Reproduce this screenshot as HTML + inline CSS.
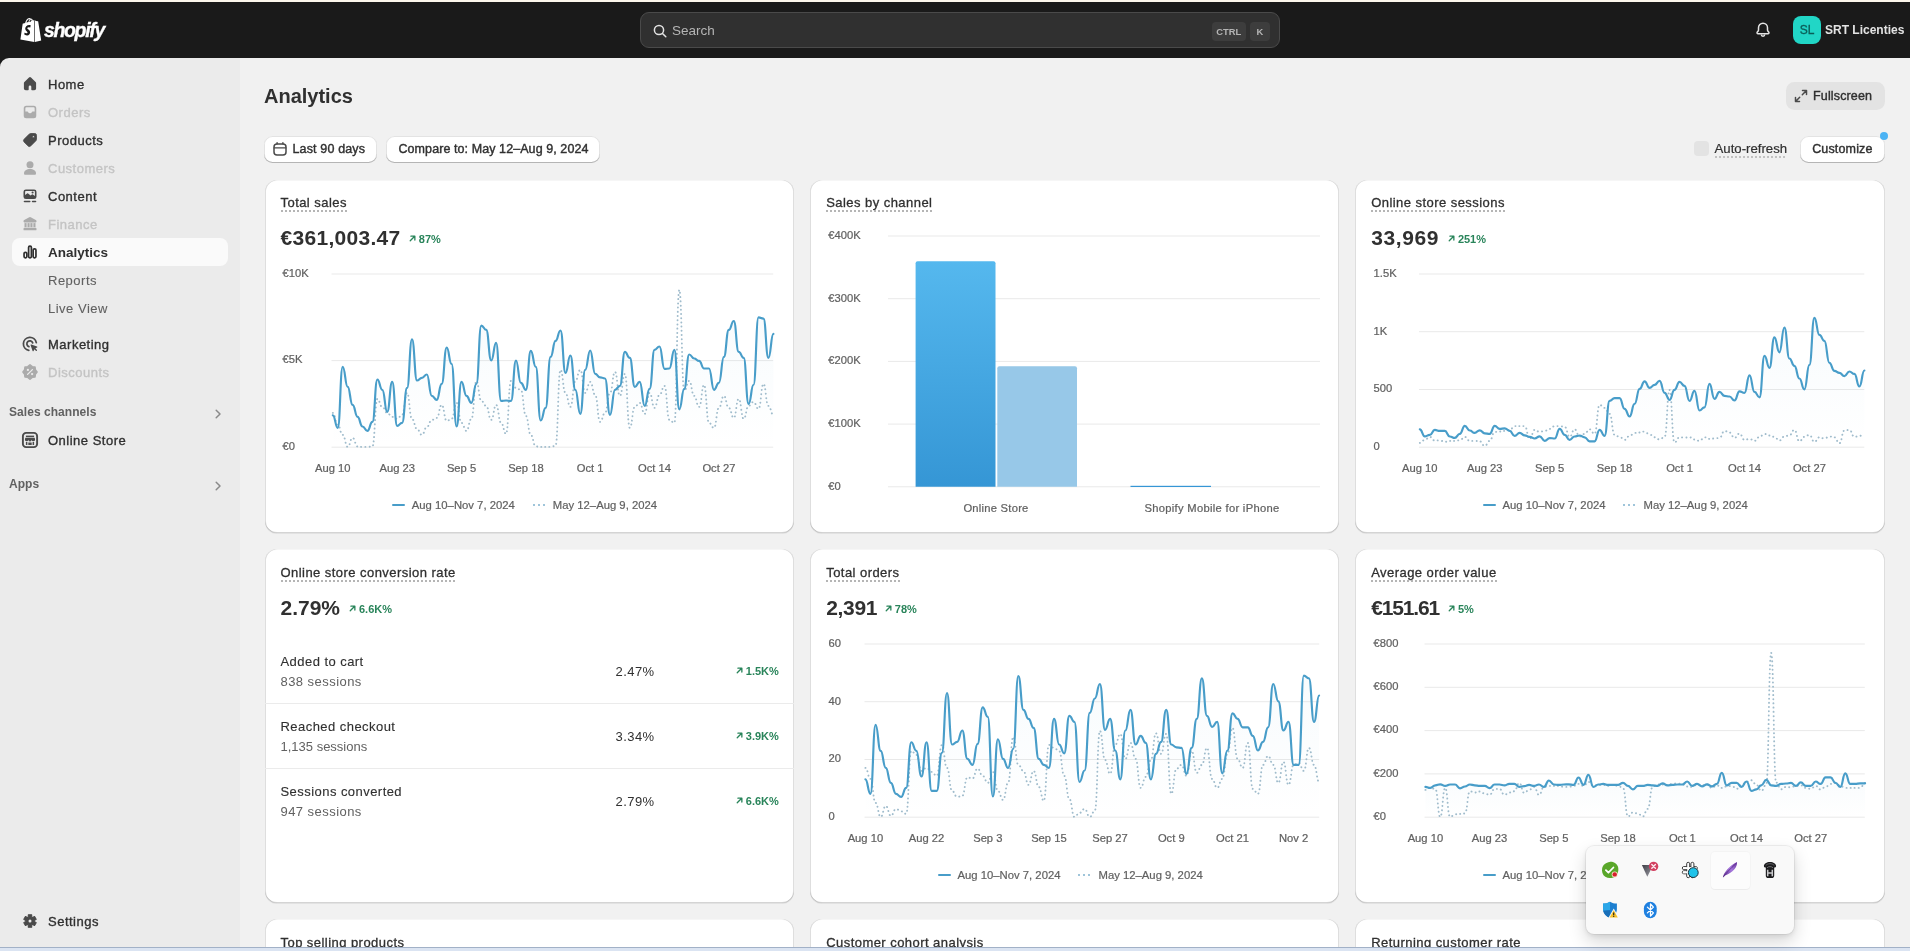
<!DOCTYPE html>
<html lang="en"><head><meta charset="utf-8"><title>Analytics</title>
<style>
*{box-sizing:border-box;margin:0;padding:0}
html,body{width:1910px;height:951px;overflow:hidden}
body{position:relative;background:#f1f1f1;font-family:"Liberation Sans",sans-serif;font-size:13px;color:#303030}
.app{position:absolute;left:0;top:0;width:1910px;height:951px;overflow:hidden;will-change:transform;background:#f1f1f1}
.topline{position:absolute;left:0;top:0;width:1910px;height:2px;background:#fdf7ec}
.topbar{position:absolute;left:0;top:2px;width:1910px;height:56px;background:#1a1a1a}
.logo{position:absolute;left:20px;top:17px;height:26px}
.logo svg{position:absolute;left:0;top:0}
.wordmark{position:absolute;left:24px;top:0px;color:#fff;font-weight:bold;font-style:italic;font-size:19.500px;line-height:26px;letter-spacing:-1.350px;-webkit-text-stroke:.35px #fff;top:-.4px}
.search{position:absolute;left:640px;top:12px;width:640px;height:36px;background:#303030;border:1px solid #4a4a4a;border-radius:9px}
.sico{position:absolute;left:11px;top:10px;width:16px;height:16px}
.stext{position:absolute;left:31px;top:10px;color:#b5b5b5;font-size:13.500px;line-height:16px}
.kbd{position:absolute;top:9px;height:19px;background:#3d3d3d;border-radius:4px;color:#b5b5b5;font-size:9.400px;font-weight:bold;line-height:19px;text-align:center}
.bell{position:absolute;left:1754px;top:21px;width:18px;height:18px}
.avatar{-webkit-text-stroke:.3px #0b5e58;position:absolute;left:1793px;top:16px;width:28px;height:28px;border-radius:8px;background:#21d6c6;color:#0b5e58;font-size:12px;line-height:28px;text-align:center}
.store{white-space:nowrap;position:absolute;left:1825px;top:21.5px;color:#e3e3e3;font-weight:bold;font-size:12px;line-height:16px}
.sbback{position:absolute;left:0;top:58px;width:12px;height:12px;background:#1a1a1a}
.sidebar{position:absolute;left:0;top:58px;width:240px;height:889px;background:#ebebeb;border-top-left-radius:9px}
.sidebar>*{position:absolute}
.navsel{left:12px;top:180px;width:216px;height:28px;background:#fafafa;border-radius:8px}
.nav{line-height:20px;font-size:13px;letter-spacing:.5px;-webkit-text-stroke:.35px currentColor;color:#303030;white-space:nowrap;margin-top:-56.800px}
.nav.dis{color:#c4c4c4}
.nav.sub{-webkit-text-stroke:.1px currentColor;color:#616161}
.nav.sel{font-weight:bold;font-size:13.500px;-webkit-text-stroke:0;letter-spacing:0}
.nav.sec{font-size:12px;font-weight:bold;color:#616161;-webkit-text-stroke:0;letter-spacing:.05px}
.nico{left:20px;width:20px;height:20px;margin-top:-58px}
.chev{left:208px;width:20px;height:20px;margin-top:-58px}
.h1{position:absolute;left:264px;top:83px;font-size:20px;font-weight:bold;line-height:26px;color:#303030}
.btn{position:absolute;background:#fff;border-radius:8.500px;box-shadow:inset 0 -1px 0 #b5b5b5,inset 0 0 0 1px rgba(0,0,0,.11),inset 0 .5px 0 1.5px #fff}
.btn.ghost{background:#e3e3e3;box-shadow:none}
.bt{position:absolute;top:0;line-height:27px;font-size:12.5px;-webkit-text-stroke:.4px #303030;letter-spacing:.15px;white-space:nowrap;color:#303030}
.ghost .bt{line-height:28px}
.bico{position:absolute;width:14px;height:14px}
.chk{position:absolute;left:1694px;top:141px;width:15px;height:15px;border-radius:4px;background:#e3e3e3}
.auto{position:absolute;left:1714.500px;top:140px;font-size:13.200px;-webkit-text-stroke:.2px #303030;line-height:18px;color:#303030;background:linear-gradient(90deg,#c2c2c2 50%,transparent 50%) 0 100%/4px 2px repeat-x}
.dot{position:absolute;left:1880px;top:132px;width:8px;height:8px;border-radius:50%;background:#4bb3f4}
.card{position:absolute;background:#fff;border-radius:12px;box-shadow:0 1px 0 rgba(26,26,26,.07),inset 1px 0 0 rgba(0,0,0,.13),inset -1px 0 0 rgba(0,0,0,.13),inset 0 -1px 0 rgba(0,0,0,.17),inset 0 1px 0 rgba(0,0,0,.035);overflow:hidden}
.card>*{position:absolute}
.in{width:529.600px;height:354px}
.in>*{position:absolute}
.ctitle{left:16px;top:13.250px;font-size:13px;letter-spacing:.45px;-webkit-text-stroke:.3px #303030;line-height:19.300px;color:#303030;white-space:nowrap;background:linear-gradient(90deg,#b5b5b5 50%,transparent 50%) 0 100%/4px 2px repeat-x}
.big{left:16px;top:44px;font-size:21px;font-weight:bold;line-height:28px;color:#303030;white-space:nowrap}
.tr{top:51px}
.trend{display:inline-flex;align-items:center;color:#29845a;font-size:11px;font-weight:bold;line-height:14px;white-space:nowrap}
.trend svg{margin-right:3px;position:relative;top:-1px;flex:none}
.legend{top:315.600px;height:20px;width:280px;left:127.500px}
.legend>*{position:absolute}
.lg1{left:0;top:9px;width:13px;height:2px;background:#489dc9;border-radius:1px}
.lg2{left:140.500px;top:9px;width:13px;height:2px;background:linear-gradient(90deg,#9fc5da 2px,transparent 2px) 0 0/5px 2px repeat-x}
.lgt{top:0;font-size:11.300px;-webkit-text-stroke:.2px #616161;line-height:20px;color:#616161;white-space:nowrap}
.r1{left:16px;font-size:13px;letter-spacing:.45px;-webkit-text-stroke:.12px #303030;line-height:20px;color:#303030;white-space:nowrap}
.r2{left:16px;font-size:13px;letter-spacing:.45px;line-height:20px;color:#616161;white-space:nowrap}
.rp{left:351px;font-size:13px;letter-spacing:.45px;line-height:20px;color:#303030}
.rt{right:15.300px}
.hr{left:0;width:100%;height:1px;background:#ebebeb}
.botbar{position:absolute;left:0;top:947px;width:1910px;height:4px;background:#dbe4f2;border-top:1px solid rgba(105,125,155,.5)}
svg{display:block;overflow:visible}
.ax{font-family:"Liberation Sans",sans-serif;font-size:11.2px;fill:#616161;stroke:#616161;stroke-width:.22px}

</style></head>
<body>
<div class="app">
<div class="topline"></div><div class="topbar"></div>
<div class="logo"><svg width="22" height="26" viewBox="0 0 22 26"><path d="M14.200 3.100 L12.900 3.500 C12.600 2.400 11.900 1.500 10.800 1.500 C10.700 1.500 10.600 1.500 10.600 1.500 C10.300 1.100 9.900 0.900 9.500 0.900 C6.900 0.900 5.600 4.200 5.200 5.900 L3.300 6.500 C2.700 6.700 2.700 6.700 2.600 7.200 L0.400 22.400 L14.300 25 Z" fill="#fff"/><path d="M14.800 3 L15.800 3.900 C15.900 4 16 4 16.100 4 L18 4.200 C18.100 4.200 18.200 4.300 18.200 4.400 L21.200 23.600 L14.900 25 Z" fill="#fff"/><path d="M10.800 8.600 L10.100 10.700 C10.100 10.700 9.400 10.300 8.600 10.300 C7.400 10.300 7.300 11.100 7.300 11.300 C7.300 12.300 10.100 12.700 10.100 15.200 C10.100 17.200 8.900 18.400 7.200 18.400 C5.200 18.400 4.200 17.200 4.200 17.200 L4.700 15.400 C4.700 15.400 5.800 16.300 6.700 16.300 C7.300 16.300 7.500 15.800 7.500 15.500 C7.500 14.100 5.200 14 5.200 11.700 C5.200 9.800 6.600 7.900 9.400 7.900 C10.400 7.900 10.800 8.600 10.800 8.600 Z" fill="#1a1a1a"/><path d="M9.500 1.900c-1.700.3-2.700 2.300-3.100 3.700l2.100-.65c.2-1.300.6-2.300 1.200-2.800-.1-.15-.15-.2-.2-.25zM10.300 2.500c-.4.500-.75 1.300-.9 2.400l1.700-.5c-.15-.9-.4-1.600-.8-1.900zM11 2.400c.3.400.5 1 .65 1.700l.5-.15c-.2-.7-.6-1.400-1.150-1.550z" fill="#1a1a1a"/></svg><span class="wordmark">shopify</span></div>
<div class="search"><span class="sico"><svg width="16" height="16" viewBox="0 0 16 16" fill="none"><circle cx="7" cy="7" r="4.600" fill="none" stroke="#e3e3e3" stroke-width="1.500"/><path d="M10.500 10.500l3.300 3.300" stroke="#e3e3e3" stroke-width="1.500" stroke-linecap="round"/></svg></span><span class="stext">Search</span><span class="kbd" style="right:33.500px;width:33.500px">CTRL</span><span class="kbd" style="right:9.300px;width:19.600px">K</span></div>
<span class="bell"><svg width="18" height="18" viewBox="0 0 18 18" fill="none"><path d="M9 2.200c-2.600 0-4.500 2-4.500 4.500v2.200c0 .6-.2 1.100-.6 1.500l-.6.600c-.6.700-.2 1.800.8 1.800h9.800c1 0 1.400-1.100.8-1.800l-.6-.6c-.4-.4-.6-.9-.6-1.500V6.700c0-2.500-1.900-4.500-4.500-4.500z" fill="none" stroke="#e3e3e3" stroke-width="1.500" stroke-linejoin="round"/><path d="M7.300 13.600a1.700 1.700 0 0 0 3.400 0" fill="none" stroke="#e3e3e3" stroke-width="1.500"/></svg></span>
<span class="avatar">SL</span><span class="store">SRT Licenties</span>
<div class="sbback"></div><div class="sidebar"><div class="navsel"></div><span class="nico" style="top:74px"><svg width="20" height="20" viewBox="0 0 20 20" fill="#4a4a4a"><path d="M11 3.500a1.500 1.500 0 0 0-2 0L4.400 7.900a1.500 1.500 0 0 0-.5 1.100V14.400a1.800 1.800 0 0 0 1.800 1.800H8a.7.700 0 0 0 .7-.7v-2.700a1.300 1.300 0 0 1 2.600 0v2.700a.7.700 0 0 0 .7.700h2.300a1.800 1.800 0 0 0 1.800-1.800V9a1.500 1.500 0 0 0-.5-1.100z"/></svg></span><span class="nav " style="left:48px;top:74px">Home</span><span class="nico" style="top:102px"><svg width="20" height="20" viewBox="0 0 20 20" fill="#ababab"><g transform="translate(10 10) scale(1.01) translate(-10 -10)"><path fill-rule="evenodd" d="M6.300 3.800h7.400A2.500 2.500 0 0 1 16.200 6.300v7.400A2.500 2.500 0 0 1 13.700 16.200H6.300A2.500 2.500 0 0 1 3.800 13.700V6.300A2.500 2.500 0 0 1 6.300 3.800zm.2 1.600a1.100 1.100 0 0 0-1.100 1.100v3.100h2.100a.6.600 0 0 1 .55.370 2.100 2.100 0 0 0 3.900 0 .6.600 0 0 1 .55-.370h2.100V6.500a1.100 1.100 0 0 0-1.100-1.100z"/></g></svg></span><span class="nav dis" style="left:48px;top:102px">Orders</span><span class="nico" style="top:130px"><svg width="20" height="20" viewBox="0 0 20 20" fill="#4a4a4a"><g transform="translate(10 10) scale(1.06) translate(-10 -10)"><path stroke="#4a4a4a" stroke-width=".8" stroke-linejoin="round" fill-rule="evenodd" d="M10.600 3.900h3.900a1.600 1.600 0 0 1 1.600 1.600v3.900a1.800 1.800 0 0 1-.53 1.270l-4.900 4.900a1.800 1.800 0 0 1-2.540 0L4.430 11.870a1.800 1.800 0 0 1 0-2.540l4.900-4.900A1.800 1.800 0 0 1 10.600 3.900zm2.600 4a1 1 0 1 0 0-2 1 1 0 0 0 0 2z"/></g></svg></span><span class="nav " style="left:48px;top:130px">Products</span><span class="nico" style="top:158px"><svg width="20" height="20" viewBox="0 0 20 20" fill="#ababab"><circle cx="10" cy="6.700" r="3.500"/><path d="M4 15.400c0-2.700 2.700-4.300 6-4.300s6 1.600 6 4.300c0 .9-.5 1.400-1.300 1.400H5.300c-.8 0-1.300-.5-1.300-1.400z"/></svg></span><span class="nav dis" style="left:48px;top:158px">Customers</span><span class="nico" style="top:186px"><svg width="20" height="20" viewBox="0 0 20 20" fill="#4a4a4a"><path fill-rule="evenodd" d="M5.900 3.400h8.200a2.400 2.400 0 0 1 2.400 2.400v4.900a2.400 2.400 0 0 1-2.400 2.400H5.900a2.400 2.400 0 0 1-2.400-2.400V5.800a2.400 2.400 0 0 1 2.400-2.400zm0 1.600a.8.800 0 0 0-.8.800v3.300l2-1.700a.8.800 0 0 1 1 0l2.500 2.100 1.300-1a.8.800 0 0 1 .95 0l2.050 1.500V5.800a.8.800 0 0 0-.8-.8zm6.700 2.600a1.050 1.050 0 1 0 0-2.100 1.050 1.050 0 0 0 0 2.100z"/><rect x="3.700" y="14.700" width="6.800" height="1.600" rx=".8"/><rect x="11.800" y="14.700" width="4.500" height="1.600" rx=".8"/></svg></span><span class="nav " style="left:48px;top:186px">Content</span><span class="nico" style="top:214px"><svg width="20" height="20" viewBox="0 0 20 20" fill="#ababab"><path d="M9.300 3.300a1.500 1.500 0 0 1 1.400 0l5.100 2.700c.5.250.7.650.7 1.100v.5a.8.800 0 0 1-.8.800H4.300a.8.800 0 0 1-.8-.8v-.5c0-.450.2-.850.7-1.100z"/><rect x="4.500" y="9.100" width="2.100" height="4.100"/><rect x="7.500" y="9.100" width="2.100" height="4.100"/><rect x="10.400" y="9.100" width="2.100" height="4.100"/><rect x="13.400" y="9.100" width="2.100" height="4.100"/><rect x="3.500" y="13.800" width="13" height="2.500" rx=".9"/></svg></span><span class="nav dis" style="left:48px;top:214px">Finance</span><span class="nico" style="top:242px"><svg width="20" height="20" viewBox="0 0 20 20" fill="none"><g fill="none" stroke="#303030" stroke-width="1.700"><rect x="4.050" y="10.300" width="2.800" height="5.500" rx="1.300"/><rect x="8.600" y="4.200" width="2.800" height="11.600" rx="1.300"/><rect x="13.150" y="6.800" width="2.800" height="9" rx="1.300"/></g></svg></span><span class="nav sel" style="left:48px;top:242px">Analytics</span><span class="nav sub" style="left:48px;top:270px">Reports</span><span class="nav sub" style="left:48px;top:298px">Live View</span><span class="nico" style="top:334px"><svg width="20" height="20" viewBox="0 0 20 20" fill="#4a4a4a"><g fill="none" stroke="#4a4a4a" stroke-width="1.750" stroke-linecap="round"><path d="M16.300 8.700A6.500 6.500 0 1 0 8.800 16.300"/><path d="M12.700 8.900a3 3 0 1 0-3.800 3.800"/></g><path d="M11.300 10.500l5.700 2c.5.200.5.800.1 1l-1.700.8 1.400 1.400a.7.700 0 0 1-1 1l-1.400-1.400-.8 1.700c-.2.400-.8.400-1-.1l-2-5.700c-.2-.5.200-.9.700-.7z"/></svg></span><span class="nav " style="left:48px;top:334px">Marketing</span><span class="nico" style="top:362px"><svg width="20" height="20" viewBox="0 0 20 20" fill="#ababab"><path d="M10.00 3.00L7.82 4.73L5.05 5.05L4.73 7.82L3.00 10.00L4.73 12.18L5.05 14.95L7.82 15.27L10.00 17.00L12.18 15.27L14.95 14.95L15.27 12.18L17.00 10.00L15.27 7.82L14.95 5.05L12.18 4.73Z" stroke="#ababab" stroke-width="1.700" stroke-linejoin="round"/><g fill="#ebebeb"><circle cx="7.900" cy="7.900" r="1.150"/><circle cx="12.100" cy="12.100" r="1.150"/></g><path d="M12.400 7.600L7.600 12.400" stroke="#ebebeb" stroke-width="1.300" stroke-linecap="round"/></svg></span><span class="nav dis" style="left:48px;top:362px">Discounts</span><span class="nav sec" style="left:9px;top:400.7px">Sales channels</span><span class="chev" style="top:404.2px"><svg width="20" height="20" viewBox="0 0 20 20" fill="none"><path d="M8.200 6.200l3.800 3.800-3.800 3.800" fill="none" stroke="#8a8a8a" stroke-width="1.500" stroke-linecap="round" stroke-linejoin="round"/></svg></span><span class="nico" style="top:430px"><svg width="20" height="20" viewBox="0 0 20 20" fill="#4a4a4a"><g fill="none" stroke="#4a4a4a" stroke-width="1.900"><rect x="2.900" y="2.900" width="14.200" height="14.200" rx="3.200"/></g><path d="M5.900 5.600h8.200v1.500H5.900z"/><path d="M5.300 7.800h9.400l.4 1.700a1.700 1.700 0 0 1-3.400.3 1.700 1.700 0 0 1-3.400 0 1.700 1.700 0 0 1-3.400-.3z"/><path d="M5.900 11.900h1.500v3h-1.500zM12.600 11.900h1.500v3h-1.500zM8.300 12.500h3.400v2.400H8.300z"/></svg></span><span class="nav " style="left:48px;top:430px">Online Store</span><span class="nav sec" style="left:9px;top:472.9px">Apps</span><span class="chev" style="top:476.1px"><svg width="20" height="20" viewBox="0 0 20 20" fill="none"><path d="M8.200 6.200l3.800 3.800-3.800 3.800" fill="none" stroke="#8a8a8a" stroke-width="1.500" stroke-linecap="round" stroke-linejoin="round"/></svg></span><span class="nico" style="top:911px"><svg width="20" height="20" viewBox="0 0 20 20" fill="#4a4a4a"><path stroke="#4a4a4a" stroke-width="1.100" stroke-linejoin="round" d="M11.77 6.53L11.66 3.82L8.34 3.82L8.23 6.53L7.88 6.73L5.47 5.47L3.82 8.34L6.11 9.80L6.11 10.20L3.82 11.66L5.47 14.53L7.88 13.27L8.23 13.47L8.34 16.18L11.66 16.18L11.77 13.47L12.12 13.27L14.53 14.53L16.18 11.66L13.89 10.20L13.89 9.80L16.18 8.34L14.53 5.47L12.12 6.73Z"/><circle cx="10" cy="10" r="1.500" fill="#ebebeb"/></svg></span><span class="nav " style="left:48px;top:911px">Settings</span></div>
<div class="h1">Analytics</div>
<div class="btn ghost" style="left:1786px;top:82px;width:99px;height:28px"><span class="bico" style="left:8px;top:7px"><svg width="14" height="14" viewBox="0 0 14 14" fill="none"><g fill="none" stroke="#4a4a4a" stroke-width="1.500" stroke-linecap="round" stroke-linejoin="round"><path d="M8.500 1.500h4v4M12.200 1.800L8.300 5.700M5.500 12.500h-4v-4M1.800 12.200l3.900-3.900"/></g></svg></span><span class="bt" style="left:27px">Fullscreen</span></div>
<div class="btn" style="left:264.200px;top:135.500px;width:113px;height:27px"><span class="bico" style="left:8.800px;top:6.300px"><svg width="14" height="14" viewBox="0 0 14 14" fill="none"><rect x="1" y="2.100" width="12" height="10.900" rx="3" fill="none" stroke="#4a4a4a" stroke-width="1.500"/><path d="M1.300 5.900h11.400M4.100 .6v1.200M9.900 .6v1.200" stroke="#4a4a4a" stroke-width="1.400" stroke-linecap="round"/></svg></span><span class="bt" style="left:28.300px">Last 90 days</span></div>
<div class="btn" style="left:386.200px;top:135.500px;width:214px;height:27px"><span class="bt" style="left:12.300px;letter-spacing:.08px">Compare to: May 12–Aug 9, 2024</span></div>
<div class="chk"></div><span class="auto">Auto-refresh</span>
<div class="btn" style="left:1800.200px;top:135.500px;width:85px;height:27px"><span class="bt" style="left:12px">Customize</span></div><div class="dot"></div>
<div class="card" style="left:265px;top:180px;width:529px;height:353px"><svg style="left:0;top:0" width="529" height="352" viewBox="0 0 529 352"><defs><linearGradient id="g1" x1="0" y1="0" x2="0" y2="1"><stop offset="0" stop-color="#489dc9" stop-opacity=".04"/><stop offset="1" stop-color="#489dc9" stop-opacity="0"/></linearGradient></defs><line x1="66.5" x2="508.2" y1="94.0" y2="94.0" stroke="#e9e9e9" stroke-width="1"/><text class="ax" x="17.6" y="96.8">€10K</text><line x1="66.5" x2="508.2" y1="180.6" y2="180.6" stroke="#e9e9e9" stroke-width="1"/><text class="ax" x="17.6" y="183.4">€5K</text><line x1="66.5" x2="508.2" y1="267.2" y2="267.2" stroke="#e9e9e9" stroke-width="1"/><text class="ax" x="17.6" y="270.0">€0</text><text class="ax" text-anchor="middle" x="67.8" y="292.2">Aug 10</text><text class="ax" text-anchor="middle" x="132.2" y="292.2">Aug 23</text><text class="ax" text-anchor="middle" x="196.5" y="292.2">Sep 5</text><text class="ax" text-anchor="middle" x="260.9" y="292.2">Sep 18</text><text class="ax" text-anchor="middle" x="325.2" y="292.2">Oct 1</text><text class="ax" text-anchor="middle" x="389.5" y="292.2">Oct 14</text><text class="ax" text-anchor="middle" x="453.9" y="292.2">Oct 27</text><path d="M67.8 235.3C70.3 235.3 70.3 247.9 72.8 247.9C75.2 247.9 75.2 186.9 77.7 186.9C80.2 186.9 80.2 206.9 82.7 206.9C85.1 206.9 85.1 224.9 87.6 224.9C90.1 224.9 90.1 236.9 92.6 236.9C95.0 236.9 95.0 246.5 97.5 246.5C100.0 246.5 100.0 250.9 102.4 250.9C104.9 250.9 104.9 241.9 107.4 241.9C109.9 241.9 109.9 199.5 112.4 199.5C114.8 199.5 114.8 209.9 117.3 209.9C119.8 209.9 119.8 231.9 122.2 231.9C124.7 231.9 124.7 201.9 127.2 201.9C129.7 201.9 129.7 245.9 132.2 245.9C134.6 245.9 134.6 242.9 137.1 242.9C139.6 242.9 139.6 207.9 142.1 207.9C144.5 207.9 144.5 159.3 147.0 159.3C149.5 159.3 149.5 200.5 152.0 200.5C154.4 200.5 154.4 197.9 156.9 197.9C159.4 197.9 159.4 194.5 161.9 194.5C164.3 194.5 164.3 215.9 166.8 215.9C169.3 215.9 169.3 219.9 171.8 219.9C174.2 219.9 174.2 203.9 176.7 203.9C179.2 203.9 179.2 167.5 181.7 167.5C184.1 167.5 184.1 183.9 186.6 183.9C189.1 183.9 189.1 246.5 191.6 246.5C194.0 246.5 194.0 201.9 196.5 201.9C199.0 201.9 199.0 215.9 201.5 215.9C203.9 215.9 203.9 222.9 206.4 222.9C208.9 222.9 208.9 203.9 211.4 203.9C213.8 203.9 213.8 145.6 216.3 145.6C218.8 145.6 218.8 149.9 221.2 149.9C223.7 149.9 223.7 180.5 226.2 180.5C228.7 180.5 228.7 162.9 231.1 162.9C233.6 162.9 233.6 220.9 236.1 220.9C238.6 220.9 238.6 220.5 241.1 220.5C243.5 220.5 243.5 220.9 246.0 220.9C248.5 220.9 248.5 180.5 251.0 180.5C253.4 180.5 253.4 202.9 255.9 202.9C258.4 202.9 258.4 209.9 260.9 209.9C263.3 209.9 263.3 170.9 265.8 170.9C268.3 170.9 268.3 186.9 270.8 186.9C273.2 186.9 273.2 240.5 275.7 240.5C278.2 240.5 278.2 227.9 280.6 227.9C283.1 227.9 283.1 176.9 285.6 176.9C288.1 176.9 288.1 160.9 290.5 160.9C293.0 160.9 293.0 150.5 295.5 150.5C298.0 150.5 298.0 192.9 300.5 192.9C302.9 192.9 302.9 175.5 305.4 175.5C307.9 175.5 307.9 209.9 310.4 209.9C312.8 209.9 312.8 233.9 315.3 233.9C317.8 233.9 317.8 189.9 320.2 189.9C322.7 189.9 322.7 170.5 325.2 170.5C327.7 170.5 327.7 193.9 330.2 193.9C332.6 193.9 332.6 197.3 335.1 197.3C337.6 197.3 337.6 198.5 340.0 198.5C342.5 198.5 342.5 234.9 345.0 234.9C347.5 234.9 347.5 209.9 350.0 209.9C352.4 209.9 352.4 205.9 354.9 205.9C357.4 205.9 357.4 171.9 359.9 171.9C362.3 171.9 362.3 177.9 364.8 177.9C367.3 177.9 367.3 206.9 369.8 206.9C372.2 206.9 372.2 201.9 374.7 201.9C377.2 201.9 377.2 225.9 379.7 225.9C382.1 225.9 382.1 208.9 384.6 208.9C387.1 208.9 387.1 169.9 389.5 169.9C392.0 169.9 392.0 166.5 394.5 166.5C397.0 166.5 397.0 188.9 399.5 188.9C401.9 188.9 401.9 188.5 404.4 188.5C406.9 188.5 406.9 169.9 409.4 169.9C411.8 169.9 411.8 229.3 414.3 229.3C416.8 229.3 416.8 208.9 419.2 208.9C421.7 208.9 421.7 174.5 424.2 174.5C426.7 174.5 426.7 178.5 429.2 178.5C431.6 178.5 431.6 180.9 434.1 180.9C436.6 180.9 436.6 188.5 439.0 188.5C441.5 188.5 441.5 188.5 444.0 188.5C446.5 188.5 446.5 209.9 449.0 209.9C451.4 209.9 451.4 202.9 453.9 202.9C456.4 202.9 456.4 176.9 458.9 176.9C461.3 176.9 461.3 149.9 463.8 149.9C466.3 149.9 466.3 141.0 468.8 141.0C471.2 141.0 471.2 171.9 473.7 171.9C476.2 171.9 476.2 177.9 478.7 177.9C481.1 177.9 481.1 223.9 483.6 223.9C486.1 223.9 486.1 204.9 488.5 204.9C491.0 204.9 491.0 137.4 493.5 137.4C496.0 137.4 496.0 138.6 498.5 138.6C500.9 138.6 500.9 177.9 503.4 177.9C505.9 177.9 505.9 153.9 508.4 153.9L508.4 267.2L67.8 267.2Z" fill="url(#g1)"/><path d="M67.8 232.9C70.3 232.9 70.3 244.9 72.8 244.9C75.2 244.9 75.2 254.9 77.7 254.9C80.2 254.9 80.2 266.9 82.7 266.9C85.1 266.9 85.1 257.9 87.6 257.9C90.1 257.9 90.1 266.5 92.6 266.5C95.0 266.5 95.0 266.9 97.5 266.9C100.0 266.9 100.0 266.9 102.4 266.9C104.9 266.9 104.9 266.5 107.4 266.5C109.9 266.5 109.9 218.9 112.4 218.9C114.8 218.9 114.8 226.9 117.3 226.9C119.8 226.9 119.8 232.9 122.2 232.9C124.7 232.9 124.7 236.9 127.2 236.9C129.7 236.9 129.7 238.9 132.2 238.9C134.6 238.9 134.6 234.9 137.1 234.9C139.6 234.9 139.6 212.9 142.1 212.9C144.5 212.9 144.5 238.9 147.0 238.9C149.5 238.9 149.5 248.9 152.0 248.9C154.4 248.9 154.4 254.9 156.9 254.9C159.4 254.9 159.4 246.9 161.9 246.9C164.3 246.9 164.3 239.9 166.8 239.9C169.3 239.9 169.3 237.9 171.8 237.9C174.2 237.9 174.2 224.9 176.7 224.9C179.2 224.9 179.2 240.9 181.7 240.9C184.1 240.9 184.1 238.9 186.6 238.9C189.1 238.9 189.1 222.9 191.6 222.9C194.0 222.9 194.0 242.9 196.5 242.9C199.0 242.9 199.0 250.9 201.5 250.9C203.9 250.9 203.9 238.9 206.4 238.9C208.9 238.9 208.9 200.9 211.4 200.9C213.8 200.9 213.8 220.9 216.3 220.9C218.8 220.9 218.8 225.9 221.2 225.9C223.7 225.9 223.7 239.9 226.2 239.9C228.7 239.9 228.7 224.9 231.1 224.9C233.6 224.9 233.6 242.9 236.1 242.9C238.6 242.9 238.6 253.9 241.1 253.9C243.5 253.9 243.5 200.9 246.0 200.9C248.5 200.9 248.5 207.9 251.0 207.9C253.4 207.9 253.4 209.9 255.9 209.9C258.4 209.9 258.4 235.9 260.9 235.9C263.3 235.9 263.3 254.9 265.8 254.9C268.3 254.9 268.3 266.5 270.8 266.5C273.2 266.5 273.2 266.9 275.7 266.9C278.2 266.9 278.2 266.9 280.6 266.9C283.1 266.9 283.1 266.9 285.6 266.9C288.1 266.9 288.1 265.9 290.5 265.9C293.0 265.9 293.0 189.9 295.5 189.9C298.0 189.9 298.0 212.9 300.5 212.9C302.9 212.9 302.9 226.9 305.4 226.9C307.9 226.9 307.9 200.9 310.4 200.9C312.8 200.9 312.8 189.9 315.3 189.9C317.8 189.9 317.8 212.9 320.2 212.9C322.7 212.9 322.7 201.9 325.2 201.9C327.7 201.9 327.7 214.9 330.2 214.9C332.6 214.9 332.6 241.9 335.1 241.9C337.6 241.9 337.6 232.9 340.0 232.9C342.5 232.9 342.5 212.9 345.0 212.9C347.5 212.9 347.5 191.9 350.0 191.9C352.4 191.9 352.4 215.9 354.9 215.9C357.4 215.9 357.4 193.9 359.9 193.9C362.3 193.9 362.3 247.9 364.8 247.9C367.3 247.9 367.3 226.9 369.8 226.9C372.2 226.9 372.2 222.9 374.7 222.9C377.2 222.9 377.2 233.9 379.7 233.9C382.1 233.9 382.1 212.9 384.6 212.9C387.1 212.9 387.1 227.9 389.5 227.9C392.0 227.9 392.0 214.9 394.5 214.9C397.0 214.9 397.0 205.9 399.5 205.9C401.9 205.9 401.9 239.9 404.4 239.9C406.9 239.9 406.9 242.9 409.4 242.9C411.8 242.9 411.8 110.0 414.3 110.0C416.8 110.0 416.8 210.9 419.2 210.9C421.7 210.9 421.7 200.9 424.2 200.9C426.7 200.9 426.7 215.9 429.2 215.9C431.6 215.9 431.6 226.9 434.1 226.9C436.6 226.9 436.6 204.9 439.0 204.9C441.5 204.9 441.5 242.9 444.0 242.9C446.5 242.9 446.5 247.9 449.0 247.9C451.4 247.9 451.4 227.9 453.9 227.9C456.4 227.9 456.4 215.9 458.9 215.9C461.3 215.9 461.3 227.9 463.8 227.9C466.3 227.9 466.3 237.9 468.8 237.9C471.2 237.9 471.2 218.9 473.7 218.9C476.2 218.9 476.2 238.9 478.7 238.9C481.1 238.9 481.1 225.9 483.6 225.9C486.1 225.9 486.1 221.9 488.5 221.9C491.0 221.9 491.0 228.9 493.5 228.9C496.0 228.9 496.0 203.9 498.5 203.9C500.9 203.9 500.9 225.9 503.4 225.9C505.9 225.9 505.9 234.9 508.4 234.9" fill="none" stroke="#a0bccc" stroke-width="1.9" stroke-linecap="round" stroke-dasharray="0.1 4.1"/><path d="M67.8 235.3C70.3 235.3 70.3 247.9 72.8 247.9C75.2 247.9 75.2 186.9 77.7 186.9C80.2 186.9 80.2 206.9 82.7 206.9C85.1 206.9 85.1 224.9 87.6 224.9C90.1 224.9 90.1 236.9 92.6 236.9C95.0 236.9 95.0 246.5 97.5 246.5C100.0 246.5 100.0 250.9 102.4 250.9C104.9 250.9 104.9 241.9 107.4 241.9C109.9 241.9 109.9 199.5 112.4 199.5C114.8 199.5 114.8 209.9 117.3 209.9C119.8 209.9 119.8 231.9 122.2 231.9C124.7 231.9 124.7 201.9 127.2 201.9C129.7 201.9 129.7 245.9 132.2 245.9C134.6 245.9 134.6 242.9 137.1 242.9C139.6 242.9 139.6 207.9 142.1 207.9C144.5 207.9 144.5 159.3 147.0 159.3C149.5 159.3 149.5 200.5 152.0 200.5C154.4 200.5 154.4 197.9 156.9 197.9C159.4 197.9 159.4 194.5 161.9 194.5C164.3 194.5 164.3 215.9 166.8 215.9C169.3 215.9 169.3 219.9 171.8 219.9C174.2 219.9 174.2 203.9 176.7 203.9C179.2 203.9 179.2 167.5 181.7 167.5C184.1 167.5 184.1 183.9 186.6 183.9C189.1 183.9 189.1 246.5 191.6 246.5C194.0 246.5 194.0 201.9 196.5 201.9C199.0 201.9 199.0 215.9 201.5 215.9C203.9 215.9 203.9 222.9 206.4 222.9C208.9 222.9 208.9 203.9 211.4 203.9C213.8 203.9 213.8 145.6 216.3 145.6C218.8 145.6 218.8 149.9 221.2 149.9C223.7 149.9 223.7 180.5 226.2 180.5C228.7 180.5 228.7 162.9 231.1 162.9C233.6 162.9 233.6 220.9 236.1 220.9C238.6 220.9 238.6 220.5 241.1 220.5C243.5 220.5 243.5 220.9 246.0 220.9C248.5 220.9 248.5 180.5 251.0 180.5C253.4 180.5 253.4 202.9 255.9 202.9C258.4 202.9 258.4 209.9 260.9 209.9C263.3 209.9 263.3 170.9 265.8 170.9C268.3 170.9 268.3 186.9 270.8 186.9C273.2 186.9 273.2 240.5 275.7 240.5C278.2 240.5 278.2 227.9 280.6 227.9C283.1 227.9 283.1 176.9 285.6 176.9C288.1 176.9 288.1 160.9 290.5 160.9C293.0 160.9 293.0 150.5 295.5 150.5C298.0 150.5 298.0 192.9 300.5 192.9C302.9 192.9 302.9 175.5 305.4 175.5C307.9 175.5 307.9 209.9 310.4 209.9C312.8 209.9 312.8 233.9 315.3 233.9C317.8 233.9 317.8 189.9 320.2 189.9C322.7 189.9 322.7 170.5 325.2 170.5C327.7 170.5 327.7 193.9 330.2 193.9C332.6 193.9 332.6 197.3 335.1 197.3C337.6 197.3 337.6 198.5 340.0 198.5C342.5 198.5 342.5 234.9 345.0 234.9C347.5 234.9 347.5 209.9 350.0 209.9C352.4 209.9 352.4 205.9 354.9 205.9C357.4 205.9 357.4 171.9 359.9 171.9C362.3 171.9 362.3 177.9 364.8 177.9C367.3 177.9 367.3 206.9 369.8 206.9C372.2 206.9 372.2 201.9 374.7 201.9C377.2 201.9 377.2 225.9 379.7 225.9C382.1 225.9 382.1 208.9 384.6 208.9C387.1 208.9 387.1 169.9 389.5 169.9C392.0 169.9 392.0 166.5 394.5 166.5C397.0 166.5 397.0 188.9 399.5 188.9C401.9 188.9 401.9 188.5 404.4 188.5C406.9 188.5 406.9 169.9 409.4 169.9C411.8 169.9 411.8 229.3 414.3 229.3C416.8 229.3 416.8 208.9 419.2 208.9C421.7 208.9 421.7 174.5 424.2 174.5C426.7 174.5 426.7 178.5 429.2 178.5C431.6 178.5 431.6 180.9 434.1 180.9C436.6 180.9 436.6 188.5 439.0 188.5C441.5 188.5 441.5 188.5 444.0 188.5C446.5 188.5 446.5 209.9 449.0 209.9C451.4 209.9 451.4 202.9 453.9 202.9C456.4 202.9 456.4 176.9 458.9 176.9C461.3 176.9 461.3 149.9 463.8 149.9C466.3 149.9 466.3 141.0 468.8 141.0C471.2 141.0 471.2 171.9 473.7 171.9C476.2 171.9 476.2 177.9 478.7 177.9C481.1 177.9 481.1 223.9 483.6 223.9C486.1 223.9 486.1 204.9 488.5 204.9C491.0 204.9 491.0 137.4 493.5 137.4C496.0 137.4 496.0 138.6 498.5 138.6C500.9 138.6 500.9 177.9 503.4 177.9C505.9 177.9 505.9 153.9 508.4 153.9" fill="none" stroke="#489dc9" stroke-width="2.150" stroke-linejoin="round" stroke-linecap="round"/></svg><div class="in" style="left:-0.50px;top:-0.40px"><span class="ctitle">Total sales</span><span class="big" style="letter-spacing:.3px">€361,003.47</span><span class="tr" style="left:144.300px"><span class="trend"><svg width="7" height="7" viewBox="0 0 8 8"><path d="M2.2 1.3h4.5v4.5M6.5 1.5L1.4 6.6" fill="none" stroke="#29845a" stroke-width="1.5" stroke-linecap="round" stroke-linejoin="round"/></svg>87%</span></span><div class="legend"><span class="lg1"></span><span class="lgt" style="left:19.800px">Aug 10–Nov 7, 2024</span><span class="lg2"></span><span class="lgt" style="left:160.800px">May 12–Aug 9, 2024</span></div></div></div>
<div class="card" style="left:810px;top:180px;width:529px;height:353px"><svg style="left:0;top:0" width="529" height="352" viewBox="0 0 529 352"><defs><linearGradient id="bg1" x1="0" y1="0" x2="0" y2="1"><stop offset="0" stop-color="#55b8ee"/><stop offset="1" stop-color="#3596d5"/></linearGradient></defs><line x1="78.0" x2="510.0" y1="56.0" y2="56.0" stroke="#e9e9e9" stroke-width="1"/><text class="ax" x="18.3" y="59.0">€400K</text><line x1="78.0" x2="510.0" y1="118.7" y2="118.7" stroke="#e9e9e9" stroke-width="1"/><text class="ax" x="18.3" y="121.7">€300K</text><line x1="78.0" x2="510.0" y1="181.4" y2="181.4" stroke="#e9e9e9" stroke-width="1"/><text class="ax" x="18.3" y="184.4">€200K</text><line x1="78.0" x2="510.0" y1="244.1" y2="244.1" stroke="#e9e9e9" stroke-width="1"/><text class="ax" x="18.3" y="247.1">€100K</text><line x1="78.0" x2="510.0" y1="306.8" y2="306.8" stroke="#e9e9e9" stroke-width="1"/><text class="ax" x="18.3" y="309.8">€0</text><path d="M105.6 306.8V83.2q0 -2 2 -2H183.5q2 0 2 2V306.8Z" fill="url(#bg1)"/><path d="M187.3 306.8V188.3q0 -2 2 -2H265.0q2 0 2 2V306.8Z" fill="#97c8e8"/><rect x="320.5" y="305.8" width="80.5" height="1.2" fill="#3596d5"/><text class="ax" text-anchor="middle" letter-spacing=".25" x="186.0" y="332.0">Online Store</text><text class="ax" text-anchor="middle" letter-spacing=".3" x="402.0" y="332.0">Shopify Mobile for iPhone</text></svg><div class="in" style="left:0.20px;top:-0.40px"><span class="ctitle">Sales by channel</span></div></div>
<div class="card" style="left:1355px;top:180px;width:530px;height:353px"><svg style="left:0;top:0" width="529" height="352" viewBox="0 0 529 352"><defs><linearGradient id="g3" x1="0" y1="0" x2="0" y2="1"><stop offset="0" stop-color="#489dc9" stop-opacity=".04"/><stop offset="1" stop-color="#489dc9" stop-opacity="0"/></linearGradient></defs><line x1="64.0" x2="509.3" y1="94.0" y2="94.0" stroke="#e9e9e9" stroke-width="1"/><text class="ax" x="18.6" y="96.8">1.5K</text><line x1="64.0" x2="509.3" y1="151.7" y2="151.7" stroke="#e9e9e9" stroke-width="1"/><text class="ax" x="18.6" y="154.5">1K</text><line x1="64.0" x2="509.3" y1="209.5" y2="209.5" stroke="#e9e9e9" stroke-width="1"/><text class="ax" x="18.6" y="212.3">500</text><line x1="64.0" x2="509.3" y1="267.2" y2="267.2" stroke="#e9e9e9" stroke-width="1"/><text class="ax" x="18.6" y="270.0">0</text><text class="ax" text-anchor="middle" x="64.8" y="292.2">Aug 10</text><text class="ax" text-anchor="middle" x="129.7" y="292.2">Aug 23</text><text class="ax" text-anchor="middle" x="194.7" y="292.2">Sep 5</text><text class="ax" text-anchor="middle" x="259.6" y="292.2">Sep 18</text><text class="ax" text-anchor="middle" x="324.5" y="292.2">Oct 1</text><text class="ax" text-anchor="middle" x="389.5" y="292.2">Oct 14</text><text class="ax" text-anchor="middle" x="454.4" y="292.2">Oct 27</text><path d="M64.8 249.3C67.3 249.3 67.3 256.3 69.8 256.3C72.3 256.3 72.3 254.9 74.8 254.9C77.3 254.9 77.3 249.9 79.8 249.9C82.3 249.9 82.3 250.9 84.8 250.9C87.3 250.9 87.3 250.9 89.8 250.9C92.3 250.9 92.3 256.5 94.8 256.5C97.3 256.5 97.3 257.9 99.8 257.9C102.3 257.9 102.3 253.9 104.8 253.9C107.3 253.9 107.3 245.9 109.8 245.9C112.3 245.9 112.3 250.5 114.8 250.5C117.2 250.5 117.2 252.9 119.7 252.9C122.2 252.9 122.2 250.3 124.7 250.3C127.2 250.3 127.2 253.3 129.7 253.3C132.2 253.3 132.2 253.9 134.7 253.9C137.2 253.9 137.2 245.9 139.7 245.9C142.2 245.9 142.2 248.9 144.7 248.9C147.2 248.9 147.2 248.3 149.7 248.3C152.2 248.3 152.2 250.9 154.7 250.9C157.2 250.9 157.2 255.9 159.7 255.9C162.2 255.9 162.2 252.9 164.7 252.9C167.2 252.9 167.2 255.3 169.7 255.3C172.2 255.3 172.2 256.9 174.7 256.9C177.2 256.9 177.2 258.5 179.7 258.5C182.2 258.5 182.2 256.3 184.7 256.3C187.2 256.3 187.2 260.9 189.7 260.9C192.2 260.9 192.2 258.1 194.7 258.1C197.2 258.1 197.2 258.5 199.7 258.5C202.2 258.5 202.2 248.9 204.7 248.9C207.2 248.9 207.2 254.9 209.7 254.9C212.2 254.9 212.2 259.9 214.6 259.9C217.1 259.9 217.1 256.5 219.6 256.5C222.1 256.5 222.1 255.5 224.6 255.5C227.1 255.5 227.1 257.3 229.6 257.3C232.1 257.3 232.1 261.3 234.6 261.3C237.1 261.3 237.1 261.3 239.6 261.3C242.1 261.3 242.1 249.9 244.6 249.9C247.1 249.9 247.1 255.9 249.6 255.9C252.1 255.9 252.1 220.9 254.6 220.9C257.1 220.9 257.1 218.1 259.6 218.1C262.1 218.1 262.1 218.1 264.6 218.1C267.1 218.1 267.1 228.9 269.6 228.9C272.1 228.9 272.1 236.5 274.6 236.5C277.1 236.5 277.1 223.9 279.6 223.9C282.1 223.9 282.1 208.9 284.6 208.9C287.1 208.9 287.1 201.3 289.6 201.3C292.1 201.3 292.1 207.9 294.6 207.9C297.1 207.9 297.1 204.9 299.6 204.9C302.1 204.9 302.1 200.9 304.6 200.9C307.1 200.9 307.1 212.9 309.6 212.9C312.1 212.9 312.1 219.9 314.5 219.9C317.0 219.9 317.0 209.9 319.5 209.9C322.0 209.9 322.0 201.9 324.5 201.9C327.0 201.9 327.0 205.9 329.5 205.9C332.0 205.9 332.0 220.9 334.5 220.9C337.0 220.9 337.0 210.9 339.5 210.9C342.0 210.9 342.0 230.5 344.5 230.5C347.0 230.5 347.0 227.3 349.5 227.3C352.0 227.3 352.0 203.9 354.5 203.9C357.0 203.9 357.0 218.9 359.5 218.9C362.0 218.9 362.0 211.9 364.5 211.9C367.0 211.9 367.0 215.9 369.5 215.9C372.0 215.9 372.0 216.5 374.5 216.5C377.0 216.5 377.0 220.5 379.5 220.5C382.0 220.5 382.0 211.3 384.5 211.3C387.0 211.3 387.0 212.9 389.5 212.9C392.0 212.9 392.0 195.3 394.5 195.3C397.0 195.3 397.0 211.9 399.5 211.9C402.0 211.9 402.0 217.3 404.5 217.3C407.0 217.3 407.0 175.9 409.5 175.9C412.0 175.9 412.0 187.9 414.5 187.9C416.9 187.9 416.9 157.3 419.4 157.3C421.9 157.3 421.9 172.3 424.4 172.3C426.9 172.3 426.9 147.5 429.4 147.5C431.9 147.5 431.9 178.5 434.4 178.5C436.9 178.5 436.9 185.9 439.4 185.9C441.9 185.9 441.9 198.5 444.4 198.5C446.9 198.5 446.9 209.3 449.4 209.3C451.9 209.3 451.9 184.9 454.4 184.9C456.9 184.9 456.9 137.8 459.4 137.8C461.9 137.8 461.9 154.9 464.4 154.9C466.9 154.9 466.9 160.9 469.4 160.9C471.9 160.9 471.9 182.9 474.4 182.9C476.9 182.9 476.9 190.9 479.4 190.9C481.9 190.9 481.9 192.9 484.4 192.9C486.9 192.9 486.9 196.1 489.4 196.1C491.9 196.1 491.9 191.5 494.4 191.5C496.9 191.5 496.9 193.9 499.4 193.9C501.9 193.9 501.9 206.5 504.4 206.5C506.9 206.5 506.9 190.5 509.4 190.5L509.4 267.2L64.8 267.2Z" fill="url(#g3)"/><path d="M64.8 262.9C67.3 262.9 67.3 259.9 69.8 259.9C72.3 259.9 72.3 256.9 74.8 256.9C77.3 256.9 77.3 260.5 79.8 260.5C82.3 260.5 82.3 260.3 84.8 260.3C87.3 260.3 87.3 261.9 89.8 261.9C92.3 261.9 92.3 260.9 94.8 260.9C97.3 260.9 97.3 260.9 99.8 260.9C102.3 260.9 102.3 260.3 104.8 260.3C107.3 260.3 107.3 256.9 109.8 256.9C112.3 256.9 112.3 260.9 114.8 260.9C117.2 260.9 117.2 260.9 119.7 260.9C122.2 260.9 122.2 261.3 124.7 261.3C127.2 261.3 127.2 265.9 129.7 265.9C132.2 265.9 132.2 260.9 134.7 260.9C137.2 260.9 137.2 251.9 139.7 251.9C142.2 251.9 142.2 251.5 144.7 251.5C147.2 251.5 147.2 250.9 149.7 250.9C152.2 250.9 152.2 249.9 154.7 249.9C157.2 249.9 157.2 246.1 159.7 246.1C162.2 246.1 162.2 246.1 164.7 246.1C167.2 246.1 167.2 246.1 169.7 246.1C172.2 246.1 172.2 258.9 174.7 258.9C177.2 258.9 177.2 249.9 179.7 249.9C182.2 249.9 182.2 251.9 184.7 251.9C187.2 251.9 187.2 250.9 189.7 250.9C192.2 250.9 192.2 248.9 194.7 248.9C197.2 248.9 197.2 246.1 199.7 246.1C202.2 246.1 202.2 246.1 204.7 246.1C207.2 246.1 207.2 246.9 209.7 246.9C212.2 246.9 212.2 256.9 214.6 256.9C217.1 256.9 217.1 249.3 219.6 249.3C222.1 249.3 222.1 256.5 224.6 256.5C227.1 256.5 227.1 253.9 229.6 253.9C232.1 253.9 232.1 249.3 234.6 249.3C237.1 249.3 237.1 253.9 239.6 253.9C242.1 253.9 242.1 224.9 244.6 224.9C247.1 224.9 247.1 227.9 249.6 227.9C252.1 227.9 252.1 233.9 254.6 233.9C257.1 233.9 257.1 254.9 259.6 254.9C262.1 254.9 262.1 256.9 264.6 256.9C267.1 256.9 267.1 259.9 269.6 259.9C272.1 259.9 272.1 255.9 274.6 255.9C277.1 255.9 277.1 252.9 279.6 252.9C282.1 252.9 282.1 252.5 284.6 252.5C287.1 252.5 287.1 251.5 289.6 251.5C292.1 251.5 292.1 254.5 294.6 254.5C297.1 254.5 297.1 257.3 299.6 257.3C302.1 257.3 302.1 259.5 304.6 259.5C307.1 259.5 307.1 256.9 309.6 256.9C312.1 256.9 312.1 209.9 314.5 209.9C317.0 209.9 317.0 262.5 319.5 262.5C322.0 262.5 322.0 257.3 324.5 257.3C327.0 257.3 327.0 257.5 329.5 257.5C332.0 257.5 332.0 257.3 334.5 257.3C337.0 257.3 337.0 259.5 339.5 259.5C342.0 259.5 342.0 260.9 344.5 260.9C347.0 260.9 347.0 257.3 349.5 257.3C352.0 257.3 352.0 258.9 354.5 258.9C357.0 258.9 357.0 258.5 359.5 258.5C362.0 258.5 362.0 257.9 364.5 257.9C367.0 257.9 367.0 250.9 369.5 250.9C372.0 250.9 372.0 252.5 374.5 252.5C377.0 252.5 377.0 257.9 379.5 257.9C382.0 257.9 382.0 253.5 384.5 253.5C387.0 253.5 387.0 259.9 389.5 259.9C392.0 259.9 392.0 258.9 394.5 258.9C397.0 258.9 397.0 260.9 399.5 260.9C402.0 260.9 402.0 256.9 404.5 256.9C407.0 256.9 407.0 253.9 409.5 253.9C412.0 253.9 412.0 255.5 414.5 255.5C416.9 255.5 416.9 256.9 419.4 256.9C421.9 256.9 421.9 260.5 424.4 260.5C426.9 260.5 426.9 256.5 429.4 256.5C431.9 256.5 431.9 255.3 434.4 255.3C436.9 255.3 436.9 249.9 439.4 249.9C441.9 249.9 441.9 261.3 444.4 261.3C446.9 261.3 446.9 256.9 449.4 256.9C451.9 256.9 451.9 254.9 454.4 254.9C456.9 254.9 456.9 261.9 459.4 261.9C461.9 261.9 461.9 257.3 464.4 257.3C466.9 257.3 466.9 258.5 469.4 258.5C471.9 258.5 471.9 256.5 474.4 256.5C476.9 256.5 476.9 257.3 479.4 257.3C481.9 257.3 481.9 263.3 484.4 263.3C486.9 263.3 486.9 250.5 489.4 250.5C491.9 250.5 491.9 249.9 494.4 249.9C496.9 249.9 496.9 256.9 499.4 256.9C501.9 256.9 501.9 255.9 504.4 255.9C506.9 255.9 506.9 254.5 509.4 254.5" fill="none" stroke="#a0bccc" stroke-width="1.9" stroke-linecap="round" stroke-dasharray="0.1 4.1"/><path d="M64.8 249.3C67.3 249.3 67.3 256.3 69.8 256.3C72.3 256.3 72.3 254.9 74.8 254.9C77.3 254.9 77.3 249.9 79.8 249.9C82.3 249.9 82.3 250.9 84.8 250.9C87.3 250.9 87.3 250.9 89.8 250.9C92.3 250.9 92.3 256.5 94.8 256.5C97.3 256.5 97.3 257.9 99.8 257.9C102.3 257.9 102.3 253.9 104.8 253.9C107.3 253.9 107.3 245.9 109.8 245.9C112.3 245.9 112.3 250.5 114.8 250.5C117.2 250.5 117.2 252.9 119.7 252.9C122.2 252.9 122.2 250.3 124.7 250.3C127.2 250.3 127.2 253.3 129.7 253.3C132.2 253.3 132.2 253.9 134.7 253.9C137.2 253.9 137.2 245.9 139.7 245.9C142.2 245.9 142.2 248.9 144.7 248.9C147.2 248.9 147.2 248.3 149.7 248.3C152.2 248.3 152.2 250.9 154.7 250.9C157.2 250.9 157.2 255.9 159.7 255.9C162.2 255.9 162.2 252.9 164.7 252.9C167.2 252.9 167.2 255.3 169.7 255.3C172.2 255.3 172.2 256.9 174.7 256.9C177.2 256.9 177.2 258.5 179.7 258.5C182.2 258.5 182.2 256.3 184.7 256.3C187.2 256.3 187.2 260.9 189.7 260.9C192.2 260.9 192.2 258.1 194.7 258.1C197.2 258.1 197.2 258.5 199.7 258.5C202.2 258.5 202.2 248.9 204.7 248.9C207.2 248.9 207.2 254.9 209.7 254.9C212.2 254.9 212.2 259.9 214.6 259.9C217.1 259.9 217.1 256.5 219.6 256.5C222.1 256.5 222.1 255.5 224.6 255.5C227.1 255.5 227.1 257.3 229.6 257.3C232.1 257.3 232.1 261.3 234.6 261.3C237.1 261.3 237.1 261.3 239.6 261.3C242.1 261.3 242.1 249.9 244.6 249.9C247.1 249.9 247.1 255.9 249.6 255.9C252.1 255.9 252.1 220.9 254.6 220.9C257.1 220.9 257.1 218.1 259.6 218.1C262.1 218.1 262.1 218.1 264.6 218.1C267.1 218.1 267.1 228.9 269.6 228.9C272.1 228.9 272.1 236.5 274.6 236.5C277.1 236.5 277.1 223.9 279.6 223.9C282.1 223.9 282.1 208.9 284.6 208.9C287.1 208.9 287.1 201.3 289.6 201.3C292.1 201.3 292.1 207.9 294.6 207.9C297.1 207.9 297.1 204.9 299.6 204.9C302.1 204.9 302.1 200.9 304.6 200.9C307.1 200.9 307.1 212.9 309.6 212.9C312.1 212.9 312.1 219.9 314.5 219.9C317.0 219.9 317.0 209.9 319.5 209.9C322.0 209.9 322.0 201.9 324.5 201.9C327.0 201.9 327.0 205.9 329.5 205.9C332.0 205.9 332.0 220.9 334.5 220.9C337.0 220.9 337.0 210.9 339.5 210.9C342.0 210.9 342.0 230.5 344.5 230.5C347.0 230.5 347.0 227.3 349.5 227.3C352.0 227.3 352.0 203.9 354.5 203.9C357.0 203.9 357.0 218.9 359.5 218.9C362.0 218.9 362.0 211.9 364.5 211.9C367.0 211.9 367.0 215.9 369.5 215.9C372.0 215.9 372.0 216.5 374.5 216.5C377.0 216.5 377.0 220.5 379.5 220.5C382.0 220.5 382.0 211.3 384.5 211.3C387.0 211.3 387.0 212.9 389.5 212.9C392.0 212.9 392.0 195.3 394.5 195.3C397.0 195.3 397.0 211.9 399.5 211.9C402.0 211.9 402.0 217.3 404.5 217.3C407.0 217.3 407.0 175.9 409.5 175.9C412.0 175.9 412.0 187.9 414.5 187.9C416.9 187.9 416.9 157.3 419.4 157.3C421.9 157.3 421.9 172.3 424.4 172.3C426.9 172.3 426.9 147.5 429.4 147.5C431.9 147.5 431.9 178.5 434.4 178.5C436.9 178.5 436.9 185.9 439.4 185.9C441.9 185.9 441.9 198.5 444.4 198.5C446.9 198.5 446.9 209.3 449.4 209.3C451.9 209.3 451.9 184.9 454.4 184.9C456.9 184.9 456.9 137.8 459.4 137.8C461.9 137.8 461.9 154.9 464.4 154.9C466.9 154.9 466.9 160.9 469.4 160.9C471.9 160.9 471.9 182.9 474.4 182.9C476.9 182.9 476.9 190.9 479.4 190.9C481.9 190.9 481.9 192.9 484.4 192.9C486.9 192.9 486.9 196.1 489.4 196.1C491.9 196.1 491.9 191.5 494.4 191.5C496.9 191.5 496.9 193.9 499.4 193.9C501.9 193.9 501.9 206.5 504.4 206.5C506.9 206.5 506.9 190.5 509.4 190.5" fill="none" stroke="#489dc9" stroke-width="2.150" stroke-linejoin="round" stroke-linecap="round"/></svg><div class="in" style="left:0.20px;top:-0.40px"><span class="ctitle">Online store sessions</span><span class="big" style="letter-spacing:.6px">33,969</span><span class="tr" style="left:92.700px"><span class="trend"><svg width="7" height="7" viewBox="0 0 8 8"><path d="M2.2 1.3h4.5v4.5M6.5 1.5L1.4 6.6" fill="none" stroke="#29845a" stroke-width="1.5" stroke-linecap="round" stroke-linejoin="round"/></svg>251%</span></span><div class="legend"><span class="lg1"></span><span class="lgt" style="left:19.800px">Aug 10–Nov 7, 2024</span><span class="lg2"></span><span class="lgt" style="left:160.800px">May 12–Aug 9, 2024</span></div></div></div>
<div class="card" style="left:265px;top:549px;width:529px;height:354px"><div class="hr" style="top:154px"></div><div class="hr" style="top:219px"></div><div class="in" style="left:-0.50px;top:0.60px"><span class="ctitle">Online store conversion rate</span><span class="big">2.79%</span><span class="tr" style="left:84.500px"><span class="trend"><svg width="7" height="7" viewBox="0 0 8 8"><path d="M2.2 1.3h4.5v4.5M6.5 1.5L1.4 6.6" fill="none" stroke="#29845a" stroke-width="1.5" stroke-linecap="round" stroke-linejoin="round"/></svg>6.6K%</span></span><span class="r1" style="top:102px">Added to cart</span><span class="r2" style="top:122px">838 sessions</span><span class="rp" style="top:112px">2.47%</span><span class="rt" style="top:113px"><span class="trend"><svg width="7" height="7" viewBox="0 0 8 8"><path d="M2.2 1.3h4.5v4.5M6.5 1.5L1.4 6.6" fill="none" stroke="#29845a" stroke-width="1.5" stroke-linecap="round" stroke-linejoin="round"/></svg>1.5K%</span></span><span class="r1" style="top:167px">Reached checkout</span><span class="r2" style="top:187px;letter-spacing:0">1,135 sessions</span><span class="rp" style="top:177px">3.34%</span><span class="rt" style="top:178px"><span class="trend"><svg width="7" height="7" viewBox="0 0 8 8"><path d="M2.2 1.3h4.5v4.5M6.5 1.5L1.4 6.6" fill="none" stroke="#29845a" stroke-width="1.5" stroke-linecap="round" stroke-linejoin="round"/></svg>3.9K%</span></span><span class="r1" style="top:232px">Sessions converted</span><span class="r2" style="top:252px">947 sessions</span><span class="rp" style="top:242px">2.79%</span><span class="rt" style="top:243px"><span class="trend"><svg width="7" height="7" viewBox="0 0 8 8"><path d="M2.2 1.3h4.5v4.5M6.5 1.5L1.4 6.6" fill="none" stroke="#29845a" stroke-width="1.5" stroke-linecap="round" stroke-linejoin="round"/></svg>6.6K%</span></span></div></div>
<div class="card" style="left:810px;top:549px;width:529px;height:354px"><svg style="left:0;top:0" width="529" height="352" viewBox="0 0 529 352"><defs><linearGradient id="g5" x1="0" y1="0" x2="0" y2="1"><stop offset="0" stop-color="#489dc9" stop-opacity=".04"/><stop offset="1" stop-color="#489dc9" stop-opacity="0"/></linearGradient></defs><line x1="54.5" x2="509.2" y1="95.0" y2="95.0" stroke="#e9e9e9" stroke-width="1"/><text class="ax" x="18.6" y="97.8">60</text><line x1="54.5" x2="509.2" y1="152.7" y2="152.7" stroke="#e9e9e9" stroke-width="1"/><text class="ax" x="18.6" y="155.5">40</text><line x1="54.5" x2="509.2" y1="210.5" y2="210.5" stroke="#e9e9e9" stroke-width="1"/><text class="ax" x="18.6" y="213.3">20</text><line x1="54.5" x2="509.2" y1="268.2" y2="268.2" stroke="#e9e9e9" stroke-width="1"/><text class="ax" x="18.6" y="271.0">0</text><text class="ax" text-anchor="middle" x="55.4" y="293.2">Aug 10</text><text class="ax" text-anchor="middle" x="116.6" y="293.2">Aug 22</text><text class="ax" text-anchor="middle" x="177.8" y="293.2">Sep 3</text><text class="ax" text-anchor="middle" x="238.9" y="293.2">Sep 15</text><text class="ax" text-anchor="middle" x="300.1" y="293.2">Sep 27</text><text class="ax" text-anchor="middle" x="361.3" y="293.2">Oct 9</text><text class="ax" text-anchor="middle" x="422.5" y="293.2">Oct 21</text><text class="ax" text-anchor="middle" x="483.6" y="293.2">Nov 2</text><path d="M55.4 230.3C57.9 230.3 57.9 244.9 60.5 244.9C63.0 244.9 63.0 175.9 65.6 175.9C68.1 175.9 68.1 201.9 70.7 201.9C73.2 201.9 73.2 218.9 75.8 218.9C78.3 218.9 78.3 233.9 80.9 233.9C83.4 233.9 83.4 244.9 86.0 244.9C88.5 244.9 88.5 247.9 91.1 247.9C93.6 247.9 93.6 238.9 96.2 238.9C98.7 238.9 98.7 193.3 101.3 193.3C103.8 193.3 103.8 201.9 106.4 201.9C108.9 201.9 108.9 227.5 111.5 227.5C114.0 227.5 114.0 193.3 116.6 193.3C119.1 193.3 119.1 241.9 121.7 241.9C124.2 241.9 124.2 241.9 126.8 241.9C129.3 241.9 129.3 203.9 131.9 203.9C134.4 203.9 134.4 144.0 137.0 144.0C139.5 144.0 139.5 195.5 142.1 195.5C144.6 195.5 144.6 192.9 147.2 192.9C149.7 192.9 149.7 181.5 152.3 181.5C154.8 181.5 154.8 209.9 157.4 209.9C159.9 209.9 159.9 215.9 162.5 215.9C165.0 215.9 165.0 194.9 167.6 194.9C170.1 194.9 170.1 158.3 172.7 158.3C175.2 158.3 175.2 167.9 177.8 167.9C180.3 167.9 180.3 247.5 182.9 247.5C185.4 247.5 185.4 190.3 187.9 190.3C190.5 190.3 190.5 209.9 193.0 209.9C195.6 209.9 195.6 218.9 198.1 218.9C200.7 218.9 200.7 199.9 203.2 199.9C205.8 199.9 205.8 127.0 208.3 127.0C210.9 127.0 210.9 160.9 213.4 160.9C216.0 160.9 216.0 169.9 218.5 169.9C221.1 169.9 221.1 178.9 223.6 178.9C226.2 178.9 226.2 209.9 228.7 209.9C231.3 209.9 231.3 215.9 233.8 215.9C236.4 215.9 236.4 218.9 238.9 218.9C241.5 218.9 241.5 169.9 244.0 169.9C246.6 169.9 246.6 195.5 249.1 195.5C251.7 195.5 251.7 204.3 254.2 204.3C256.8 204.3 256.8 166.9 259.3 166.9C261.9 166.9 261.9 172.9 264.4 172.9C267.0 172.9 267.0 232.9 269.5 232.9C272.1 232.9 272.1 221.5 274.6 221.5C277.2 221.5 277.2 163.9 279.7 163.9C282.3 163.9 282.3 149.5 284.8 149.5C287.4 149.5 287.4 135.0 289.9 135.0C292.5 135.0 292.5 180.9 295.0 180.9C297.6 180.9 297.6 169.9 300.1 169.9C302.7 169.9 302.7 201.5 305.2 201.5C307.8 201.5 307.8 230.3 310.3 230.3C312.8 230.3 312.8 181.5 315.4 181.5C317.9 181.5 317.9 160.9 320.5 160.9C323.0 160.9 323.0 195.5 325.6 195.5C328.1 195.5 328.1 186.9 330.7 186.9C333.2 186.9 333.2 193.9 335.8 193.9C338.3 193.9 338.3 230.3 340.9 230.3C343.4 230.3 343.4 204.9 346.0 204.9C348.5 204.9 348.5 192.9 351.1 192.9C353.6 192.9 353.6 160.9 356.2 160.9C358.7 160.9 358.7 195.5 361.3 195.5C363.8 195.5 363.8 198.3 366.4 198.3C368.9 198.3 368.9 198.9 371.5 198.9C374.0 198.9 374.0 224.9 376.6 224.9C379.1 224.9 379.1 198.9 381.7 198.9C384.2 198.9 384.2 169.9 386.8 169.9C389.3 169.9 389.3 129.4 391.9 129.4C394.4 129.4 394.4 166.9 397.0 166.9C399.5 166.9 399.5 177.9 402.1 177.9C404.6 177.9 404.6 172.9 407.2 172.9C409.7 172.9 409.7 224.3 412.3 224.3C414.8 224.3 414.8 201.5 417.4 201.5C419.9 201.5 419.9 164.3 422.5 164.3C425.0 164.3 425.0 169.9 427.6 169.9C430.1 169.9 430.1 178.3 432.7 178.3C435.2 178.3 435.2 178.3 437.8 178.3C440.3 178.3 440.3 186.9 442.8 186.9C445.4 186.9 445.4 201.5 447.9 201.5C450.5 201.5 450.5 192.9 453.0 192.9C455.6 192.9 455.6 178.3 458.1 178.3C460.7 178.3 460.7 135.0 463.2 135.0C465.8 135.0 465.8 152.3 468.3 152.3C470.9 152.3 470.9 181.5 473.4 181.5C476.0 181.5 476.0 172.9 478.5 172.9C481.1 172.9 481.1 215.9 483.6 215.9C486.2 215.9 486.2 215.9 488.7 215.9C491.3 215.9 491.3 126.6 493.8 126.6C496.4 126.6 496.4 129.4 498.9 129.4C501.5 129.4 501.5 172.9 504.0 172.9C506.6 172.9 506.6 146.6 509.1 146.6L509.1 268.2L55.4 268.2Z" fill="url(#g5)"/><path d="M55.4 218.9C57.9 218.9 57.9 229.9 60.5 229.9C63.0 229.9 63.0 253.9 65.6 253.9C68.1 253.9 68.1 267.9 70.7 267.9C73.2 267.9 73.2 256.9 75.8 256.9C78.3 256.9 78.3 266.9 80.9 266.9C83.4 266.9 83.4 259.9 86.0 259.9C88.5 259.9 88.5 262.3 91.1 262.3C93.6 262.3 93.6 264.9 96.2 264.9C98.7 264.9 98.7 201.9 101.3 201.9C103.8 201.9 103.8 205.9 106.4 205.9C108.9 205.9 108.9 221.9 111.5 221.9C114.0 221.9 114.0 218.9 116.6 218.9C119.1 218.9 119.1 222.9 121.7 222.9C124.2 222.9 124.2 226.9 126.8 226.9C129.3 226.9 129.3 195.9 131.9 195.9C134.4 195.9 134.4 218.9 137.0 218.9C139.5 218.9 139.5 241.9 142.1 241.9C144.6 241.9 144.6 247.9 147.2 247.9C149.7 247.9 149.7 246.9 152.3 246.9C154.8 246.9 154.8 228.3 157.4 228.3C159.9 228.3 159.9 229.5 162.5 229.5C165.0 229.5 165.0 219.5 167.6 219.5C170.1 219.5 170.1 226.9 172.7 226.9C175.2 226.9 175.2 233.9 177.8 233.9C180.3 233.9 180.3 222.9 182.9 222.9C185.4 222.9 185.4 241.9 187.9 241.9C190.5 241.9 190.5 250.9 193.0 250.9C195.6 250.9 195.6 233.9 198.1 233.9C200.7 233.9 200.7 187.9 203.2 187.9C205.8 187.9 205.8 215.9 208.3 215.9C210.9 215.9 210.9 221.9 213.4 221.9C216.0 221.9 216.0 235.9 218.5 235.9C221.1 235.9 221.1 221.9 223.6 221.9C226.2 221.9 226.2 237.9 228.7 237.9C231.3 237.9 231.3 251.9 233.8 251.9C236.4 251.9 236.4 195.9 238.9 195.9C241.5 195.9 241.5 198.9 244.0 198.9C246.6 198.9 246.6 201.9 249.1 201.9C251.7 201.9 251.7 226.9 254.2 226.9C256.8 226.9 256.8 249.9 259.3 249.9C261.9 249.9 261.9 267.9 264.4 267.9C267.0 267.9 267.0 263.9 269.5 263.9C272.1 263.9 272.1 259.9 274.6 259.9C277.2 259.9 277.2 267.9 279.7 267.9C282.3 267.9 282.3 261.9 284.8 261.9C287.4 261.9 287.4 181.9 289.9 181.9C292.5 181.9 292.5 210.9 295.0 210.9C297.6 210.9 297.6 224.9 300.1 224.9C302.7 224.9 302.7 195.9 305.2 195.9C307.8 195.9 307.8 184.9 310.3 184.9C312.8 184.9 312.8 209.9 315.4 209.9C317.9 209.9 317.9 193.9 320.5 193.9C323.0 193.9 323.0 209.9 325.6 209.9C328.1 209.9 328.1 238.9 330.7 238.9C333.2 238.9 333.2 227.9 335.8 227.9C338.3 227.9 338.3 210.9 340.9 210.9C343.4 210.9 343.4 184.3 346.0 184.3C348.5 184.3 348.5 204.9 351.1 204.9C353.6 204.9 353.6 184.9 356.2 184.9C358.7 184.9 358.7 244.9 361.3 244.9C363.8 244.9 363.8 219.9 366.4 219.9C368.9 219.9 368.9 215.9 371.5 215.9C374.0 215.9 374.0 226.9 376.6 226.9C379.1 226.9 379.1 201.9 381.7 201.9C384.2 201.9 384.2 223.9 386.8 223.9C389.3 223.9 389.3 215.9 391.9 215.9C394.4 215.9 394.4 198.9 397.0 198.9C399.5 198.9 399.5 229.9 402.1 229.9C404.6 229.9 404.6 238.9 407.2 238.9C409.7 238.9 409.7 229.9 412.3 229.9C414.8 229.9 414.8 204.9 417.4 204.9C419.9 204.9 419.9 178.9 422.5 178.9C425.0 178.9 425.0 209.9 427.6 209.9C430.1 209.9 430.1 218.9 432.7 218.9C435.2 218.9 435.2 193.9 437.8 193.9C440.3 193.9 440.3 239.9 442.8 239.9C445.4 239.9 445.4 244.9 447.9 244.9C450.5 244.9 450.5 215.9 453.0 215.9C455.6 215.9 455.6 206.9 458.1 206.9C460.7 206.9 460.7 215.9 463.2 215.9C465.8 215.9 465.8 233.9 468.3 233.9C470.9 233.9 470.9 212.9 473.4 212.9C476.0 212.9 476.0 235.9 478.5 235.9C481.1 235.9 481.1 215.9 483.6 215.9C486.2 215.9 486.2 213.9 488.7 213.9C491.3 213.9 491.3 221.9 493.8 221.9C496.4 221.9 496.4 198.9 498.9 198.9C501.5 198.9 501.5 215.9 504.0 215.9C506.6 215.9 506.6 232.9 509.1 232.9" fill="none" stroke="#a0bccc" stroke-width="1.9" stroke-linecap="round" stroke-dasharray="0.1 4.1"/><path d="M55.4 230.3C57.9 230.3 57.9 244.9 60.5 244.9C63.0 244.9 63.0 175.9 65.6 175.9C68.1 175.9 68.1 201.9 70.7 201.9C73.2 201.9 73.2 218.9 75.8 218.9C78.3 218.9 78.3 233.9 80.9 233.9C83.4 233.9 83.4 244.9 86.0 244.9C88.5 244.9 88.5 247.9 91.1 247.9C93.6 247.9 93.6 238.9 96.2 238.9C98.7 238.9 98.7 193.3 101.3 193.3C103.8 193.3 103.8 201.9 106.4 201.9C108.9 201.9 108.9 227.5 111.5 227.5C114.0 227.5 114.0 193.3 116.6 193.3C119.1 193.3 119.1 241.9 121.7 241.9C124.2 241.9 124.2 241.9 126.8 241.9C129.3 241.9 129.3 203.9 131.9 203.9C134.4 203.9 134.4 144.0 137.0 144.0C139.5 144.0 139.5 195.5 142.1 195.5C144.6 195.5 144.6 192.9 147.2 192.9C149.7 192.9 149.7 181.5 152.3 181.5C154.8 181.5 154.8 209.9 157.4 209.9C159.9 209.9 159.9 215.9 162.5 215.9C165.0 215.9 165.0 194.9 167.6 194.9C170.1 194.9 170.1 158.3 172.7 158.3C175.2 158.3 175.2 167.9 177.8 167.9C180.3 167.9 180.3 247.5 182.9 247.5C185.4 247.5 185.4 190.3 187.9 190.3C190.5 190.3 190.5 209.9 193.0 209.9C195.6 209.9 195.6 218.9 198.1 218.9C200.7 218.9 200.7 199.9 203.2 199.9C205.8 199.9 205.8 127.0 208.3 127.0C210.9 127.0 210.9 160.9 213.4 160.9C216.0 160.9 216.0 169.9 218.5 169.9C221.1 169.9 221.1 178.9 223.6 178.9C226.2 178.9 226.2 209.9 228.7 209.9C231.3 209.9 231.3 215.9 233.8 215.9C236.4 215.9 236.4 218.9 238.9 218.9C241.5 218.9 241.5 169.9 244.0 169.9C246.6 169.9 246.6 195.5 249.1 195.5C251.7 195.5 251.7 204.3 254.2 204.3C256.8 204.3 256.8 166.9 259.3 166.9C261.9 166.9 261.9 172.9 264.4 172.9C267.0 172.9 267.0 232.9 269.5 232.9C272.1 232.9 272.1 221.5 274.6 221.5C277.2 221.5 277.2 163.9 279.7 163.9C282.3 163.9 282.3 149.5 284.8 149.5C287.4 149.5 287.4 135.0 289.9 135.0C292.5 135.0 292.5 180.9 295.0 180.9C297.6 180.9 297.6 169.9 300.1 169.9C302.7 169.9 302.7 201.5 305.2 201.5C307.8 201.5 307.8 230.3 310.3 230.3C312.8 230.3 312.8 181.5 315.4 181.5C317.9 181.5 317.9 160.9 320.5 160.9C323.0 160.9 323.0 195.5 325.6 195.5C328.1 195.5 328.1 186.9 330.7 186.9C333.2 186.9 333.2 193.9 335.8 193.9C338.3 193.9 338.3 230.3 340.9 230.3C343.4 230.3 343.4 204.9 346.0 204.9C348.5 204.9 348.5 192.9 351.1 192.9C353.6 192.9 353.6 160.9 356.2 160.9C358.7 160.9 358.7 195.5 361.3 195.5C363.8 195.5 363.8 198.3 366.4 198.3C368.9 198.3 368.9 198.9 371.5 198.9C374.0 198.9 374.0 224.9 376.6 224.9C379.1 224.9 379.1 198.9 381.7 198.9C384.2 198.9 384.2 169.9 386.8 169.9C389.3 169.9 389.3 129.4 391.9 129.4C394.4 129.4 394.4 166.9 397.0 166.9C399.5 166.9 399.5 177.9 402.1 177.9C404.6 177.9 404.6 172.9 407.2 172.9C409.7 172.9 409.7 224.3 412.3 224.3C414.8 224.3 414.8 201.5 417.4 201.5C419.9 201.5 419.9 164.3 422.5 164.3C425.0 164.3 425.0 169.9 427.6 169.9C430.1 169.9 430.1 178.3 432.7 178.3C435.2 178.3 435.2 178.3 437.8 178.3C440.3 178.3 440.3 186.9 442.8 186.9C445.4 186.9 445.4 201.5 447.9 201.5C450.5 201.5 450.5 192.9 453.0 192.9C455.6 192.9 455.6 178.3 458.1 178.3C460.7 178.3 460.7 135.0 463.2 135.0C465.8 135.0 465.8 152.3 468.3 152.3C470.9 152.3 470.9 181.5 473.4 181.5C476.0 181.5 476.0 172.9 478.5 172.9C481.1 172.9 481.1 215.9 483.6 215.9C486.2 215.9 486.2 215.9 488.7 215.9C491.3 215.9 491.3 126.6 493.8 126.6C496.4 126.6 496.4 129.4 498.9 129.4C501.5 129.4 501.5 172.9 504.0 172.9C506.6 172.9 506.6 146.6 509.1 146.6" fill="none" stroke="#489dc9" stroke-width="2.150" stroke-linejoin="round" stroke-linecap="round"/></svg><div class="in" style="left:0.20px;top:0.60px"><span class="ctitle">Total orders</span><span class="big" style="letter-spacing:-.3px">2,391</span><span class="tr" style="left:74.600px"><span class="trend"><svg width="7" height="7" viewBox="0 0 8 8"><path d="M2.2 1.3h4.5v4.5M6.5 1.5L1.4 6.6" fill="none" stroke="#29845a" stroke-width="1.5" stroke-linecap="round" stroke-linejoin="round"/></svg>78%</span></span><div class="legend"><span class="lg1"></span><span class="lgt" style="left:19.800px">Aug 10–Nov 7, 2024</span><span class="lg2"></span><span class="lgt" style="left:160.800px">May 12–Aug 9, 2024</span></div></div></div>
<div class="card" style="left:1355px;top:549px;width:530px;height:354px"><svg style="left:0;top:0" width="529" height="352" viewBox="0 0 529 352"><defs><linearGradient id="g6" x1="0" y1="0" x2="0" y2="1"><stop offset="0" stop-color="#489dc9" stop-opacity=".04"/><stop offset="1" stop-color="#489dc9" stop-opacity="0"/></linearGradient></defs><line x1="69.5" x2="509.8" y1="95.0" y2="95.0" stroke="#e9e9e9" stroke-width="1"/><text class="ax" x="18.6" y="97.8">€800</text><line x1="69.5" x2="509.8" y1="138.3" y2="138.3" stroke="#e9e9e9" stroke-width="1"/><text class="ax" x="18.6" y="141.1">€600</text><line x1="69.5" x2="509.8" y1="181.6" y2="181.6" stroke="#e9e9e9" stroke-width="1"/><text class="ax" x="18.6" y="184.4">€400</text><line x1="69.5" x2="509.8" y1="224.9" y2="224.9" stroke="#e9e9e9" stroke-width="1"/><text class="ax" x="18.6" y="227.7">€200</text><line x1="69.5" x2="509.8" y1="268.2" y2="268.2" stroke="#e9e9e9" stroke-width="1"/><text class="ax" x="18.6" y="271.0">€0</text><text class="ax" text-anchor="middle" x="70.4" y="293.2">Aug 10</text><text class="ax" text-anchor="middle" x="134.6" y="293.2">Aug 23</text><text class="ax" text-anchor="middle" x="198.8" y="293.2">Sep 5</text><text class="ax" text-anchor="middle" x="263.1" y="293.2">Sep 18</text><text class="ax" text-anchor="middle" x="327.3" y="293.2">Oct 1</text><text class="ax" text-anchor="middle" x="391.5" y="293.2">Oct 14</text><text class="ax" text-anchor="middle" x="455.7" y="293.2">Oct 27</text><path d="M70.4 237.9C72.9 237.9 72.9 238.9 75.3 238.9C77.8 238.9 77.8 236.3 80.3 236.3C82.8 236.3 82.8 235.3 85.2 235.3C87.7 235.3 87.7 236.9 90.2 236.9C92.6 236.9 92.6 235.5 95.1 235.5C97.6 235.5 97.6 235.5 100.0 235.5C102.5 235.5 102.5 239.3 105.0 239.3C107.5 239.3 107.5 237.5 109.9 237.5C112.4 237.5 112.4 235.5 114.9 235.5C117.3 235.5 117.3 236.3 119.8 236.3C122.3 236.3 122.3 236.9 124.7 236.9C127.2 236.9 127.2 236.9 129.7 236.9C132.2 236.9 132.2 239.1 134.6 239.1C137.1 239.1 137.1 235.5 139.6 235.5C142.0 235.5 142.0 235.5 144.5 235.5C147.0 235.5 147.0 236.3 149.4 236.3C151.9 236.3 151.9 234.9 154.4 234.9C156.9 234.9 156.9 234.9 159.3 234.9C161.8 234.9 161.8 237.9 164.3 237.9C166.7 237.9 166.7 237.1 169.2 237.1C171.7 237.1 171.7 235.9 174.1 235.9C176.6 235.9 176.6 236.9 179.1 236.9C181.6 236.9 181.6 235.5 184.0 235.5C186.5 235.5 186.5 237.9 189.0 237.9C191.4 237.9 191.4 231.5 193.9 231.5C196.4 231.5 196.4 235.5 198.8 235.5C201.3 235.5 201.3 235.9 203.8 235.9C206.2 235.9 206.2 235.5 208.7 235.5C211.2 235.5 211.2 235.3 213.7 235.3C216.1 235.3 216.1 235.9 218.6 235.9C221.1 235.9 221.1 228.5 223.5 228.5C226.0 228.5 226.0 235.9 228.5 235.9C231.0 235.9 231.0 225.9 233.4 225.9C235.9 225.9 235.9 237.9 238.4 237.9C240.8 237.9 240.8 235.5 243.3 235.5C245.8 235.5 245.8 234.9 248.2 234.9C250.7 234.9 250.7 235.9 253.2 235.9C255.7 235.9 255.7 235.9 258.1 235.9C260.6 235.9 260.6 235.9 263.1 235.9C265.5 235.9 265.5 233.9 268.0 233.9C270.5 233.9 270.5 236.9 272.9 236.9C275.4 236.9 275.4 240.3 277.9 240.3C280.4 240.3 280.4 236.9 282.8 236.9C285.3 236.9 285.3 236.9 287.8 236.9C290.2 236.9 290.2 235.9 292.7 235.9C295.2 235.9 295.2 236.3 297.6 236.3C300.1 236.3 300.1 236.9 302.6 236.9C305.1 236.9 305.1 234.3 307.5 234.3C310.0 234.3 310.0 236.3 312.5 236.3C314.9 236.3 314.9 235.9 317.4 235.9C319.9 235.9 319.9 235.5 322.3 235.5C324.8 235.5 324.8 235.5 327.3 235.5C329.8 235.5 329.8 232.5 332.2 232.5C334.7 232.5 334.7 236.9 337.2 236.9C339.6 236.9 339.6 234.9 342.1 234.9C344.6 234.9 344.6 237.3 347.0 237.3C349.5 237.3 349.5 235.3 352.0 235.3C354.5 235.3 354.5 237.3 356.9 237.3C359.4 237.3 359.4 234.9 361.9 234.9C364.3 234.9 364.3 223.9 366.8 223.9C369.3 223.9 369.3 236.3 371.7 236.3C374.2 236.3 374.2 233.9 376.7 233.9C379.2 233.9 379.2 233.9 381.6 233.9C384.1 233.9 384.1 237.9 386.6 237.9C389.0 237.9 389.0 232.5 391.5 232.5C394.0 232.5 394.0 241.9 396.4 241.9C398.9 241.9 398.9 240.3 401.4 240.3C403.9 240.3 403.9 236.3 406.3 236.3C408.8 236.3 408.8 230.9 411.3 230.9C413.7 230.9 413.7 236.3 416.2 236.3C418.7 236.3 418.7 236.9 421.1 236.9C423.6 236.9 423.6 234.9 426.1 234.9C428.6 234.9 428.6 234.5 431.0 234.5C433.5 234.5 433.5 233.9 436.0 233.9C438.4 233.9 438.4 236.9 440.9 236.9C443.4 236.9 443.4 233.3 445.8 233.3C448.3 233.3 448.3 236.9 450.8 236.9C453.3 236.9 453.3 236.9 455.7 236.9C458.2 236.9 458.2 232.5 460.7 232.5C463.1 232.5 463.1 234.9 465.6 234.9C468.1 234.9 468.1 228.3 470.5 228.3C473.0 228.3 473.0 228.3 475.5 228.3C478.0 228.3 478.0 233.9 480.4 233.9C482.9 233.9 482.9 237.9 485.4 237.9C487.8 237.9 487.8 224.3 490.3 224.3C492.8 224.3 492.8 234.9 495.2 234.9C497.7 234.9 497.7 234.9 500.2 234.9C502.7 234.9 502.7 234.3 505.1 234.3C507.6 234.3 507.6 234.3 510.1 234.3L510.1 268.2L70.4 268.2Z" fill="url(#g6)"/><path d="M70.4 240.9C72.9 240.9 72.9 238.9 75.3 238.9C77.8 238.9 77.8 239.9 80.3 239.9C82.8 239.9 82.8 267.9 85.2 267.9C87.7 267.9 87.7 238.9 90.2 238.9C92.6 238.9 92.6 267.9 95.1 267.9C97.6 267.9 97.6 265.3 100.0 265.3C102.5 265.3 102.5 264.9 105.0 264.9C107.5 264.9 107.5 264.5 109.9 264.5C112.4 264.5 112.4 242.3 114.9 242.3C117.3 242.3 117.3 243.5 119.8 243.5C122.3 243.5 122.3 242.5 124.7 242.5C127.2 242.5 127.2 244.5 129.7 244.5C132.2 244.5 132.2 245.9 134.6 245.9C137.1 245.9 137.1 239.9 139.6 239.9C142.0 239.9 142.0 239.9 144.5 239.9C147.0 239.9 147.0 245.9 149.4 245.9C151.9 245.9 151.9 243.5 154.4 243.5C156.9 243.5 156.9 242.3 159.3 242.3C161.8 242.3 161.8 233.9 164.3 233.9C166.7 233.9 166.7 243.9 169.2 243.9C171.7 243.9 171.7 240.9 174.1 240.9C176.6 240.9 176.6 237.9 179.1 237.9C181.6 237.9 181.6 245.9 184.0 245.9C186.5 245.9 186.5 237.9 189.0 237.9C191.4 237.9 191.4 236.9 193.9 236.9C196.4 236.9 196.4 236.9 198.8 236.9C201.3 236.9 201.3 236.9 203.8 236.9C206.2 236.9 206.2 237.9 208.7 237.9C211.2 237.9 211.2 237.9 213.7 237.9C216.1 237.9 216.1 236.9 218.6 236.9C221.1 236.9 221.1 234.9 223.5 234.9C226.0 234.9 226.0 236.9 228.5 236.9C231.0 236.9 231.0 232.9 233.4 232.9C235.9 232.9 235.9 236.9 238.4 236.9C240.8 236.9 240.8 235.9 243.3 235.9C245.8 235.9 245.8 235.9 248.2 235.9C250.7 235.9 250.7 236.9 253.2 236.9C255.7 236.9 255.7 235.9 258.1 235.9C260.6 235.9 260.6 236.9 263.1 236.9C265.5 236.9 265.5 238.9 268.0 238.9C270.5 238.9 270.5 267.5 272.9 267.5C275.4 267.5 275.4 263.5 277.9 263.5C280.4 263.5 280.4 264.5 282.8 264.5C285.3 264.5 285.3 267.5 287.8 267.5C290.2 267.5 290.2 259.9 292.7 259.9C295.2 259.9 295.2 237.9 297.6 237.9C300.1 237.9 300.1 235.5 302.6 235.5C305.1 235.5 305.1 235.5 307.5 235.5C310.0 235.5 310.0 235.9 312.5 235.9C314.9 235.9 314.9 234.9 317.4 234.9C319.9 234.9 319.9 234.3 322.3 234.3C324.8 234.3 324.8 235.5 327.3 235.5C329.8 235.5 329.8 237.5 332.2 237.5C334.7 237.5 334.7 237.9 337.2 237.9C339.6 237.9 339.6 235.5 342.1 235.5C344.6 235.5 344.6 236.3 347.0 236.3C349.5 236.3 349.5 235.5 352.0 235.5C354.5 235.5 354.5 238.9 356.9 238.9C359.4 238.9 359.4 236.3 361.9 236.3C364.3 236.3 364.3 238.9 366.8 238.9C369.3 238.9 369.3 237.5 371.7 237.5C374.2 237.5 374.2 236.9 376.7 236.9C379.2 236.9 379.2 239.9 381.6 239.9C384.1 239.9 384.1 235.9 386.6 235.9C389.0 235.9 389.0 232.9 391.5 232.9C394.0 232.9 394.0 231.3 396.4 231.3C398.9 231.3 398.9 235.9 401.4 235.9C403.9 235.9 403.9 241.9 406.3 241.9C408.8 241.9 408.8 235.5 411.3 235.5C413.7 235.5 413.7 104.0 416.2 104.0C418.7 104.0 418.7 233.5 421.1 233.5C423.6 233.5 423.6 240.3 426.1 240.3C428.6 240.3 428.6 237.9 431.0 237.9C433.5 237.9 433.5 238.3 436.0 238.3C438.4 238.3 438.4 236.9 440.9 236.9C443.4 236.9 443.4 236.3 445.8 236.3C448.3 236.3 448.3 238.9 450.8 238.9C453.3 238.9 453.3 239.9 455.7 239.9C458.2 239.9 458.2 236.9 460.7 236.9C463.1 236.9 463.1 240.5 465.6 240.5C468.1 240.5 468.1 237.9 470.5 237.9C473.0 237.9 473.0 234.9 475.5 234.9C478.0 234.9 478.0 233.9 480.4 233.9C482.9 233.9 482.9 236.9 485.4 236.9C487.8 236.9 487.8 238.9 490.3 238.9C492.8 238.9 492.8 238.9 495.2 238.9C497.7 238.9 497.7 238.9 500.2 238.9C502.7 238.9 502.7 238.9 505.1 238.9C507.6 238.9 507.6 233.9 510.1 233.9" fill="none" stroke="#a0bccc" stroke-width="1.9" stroke-linecap="round" stroke-dasharray="0.1 4.1"/><path d="M70.4 237.9C72.9 237.9 72.9 238.9 75.3 238.9C77.8 238.9 77.8 236.3 80.3 236.3C82.8 236.3 82.8 235.3 85.2 235.3C87.7 235.3 87.7 236.9 90.2 236.9C92.6 236.9 92.6 235.5 95.1 235.5C97.6 235.5 97.6 235.5 100.0 235.5C102.5 235.5 102.5 239.3 105.0 239.3C107.5 239.3 107.5 237.5 109.9 237.5C112.4 237.5 112.4 235.5 114.9 235.5C117.3 235.5 117.3 236.3 119.8 236.3C122.3 236.3 122.3 236.9 124.7 236.9C127.2 236.9 127.2 236.9 129.7 236.9C132.2 236.9 132.2 239.1 134.6 239.1C137.1 239.1 137.1 235.5 139.6 235.5C142.0 235.5 142.0 235.5 144.5 235.5C147.0 235.5 147.0 236.3 149.4 236.3C151.9 236.3 151.9 234.9 154.4 234.9C156.9 234.9 156.9 234.9 159.3 234.9C161.8 234.9 161.8 237.9 164.3 237.9C166.7 237.9 166.7 237.1 169.2 237.1C171.7 237.1 171.7 235.9 174.1 235.9C176.6 235.9 176.6 236.9 179.1 236.9C181.6 236.9 181.6 235.5 184.0 235.5C186.5 235.5 186.5 237.9 189.0 237.9C191.4 237.9 191.4 231.5 193.9 231.5C196.4 231.5 196.4 235.5 198.8 235.5C201.3 235.5 201.3 235.9 203.8 235.9C206.2 235.9 206.2 235.5 208.7 235.5C211.2 235.5 211.2 235.3 213.7 235.3C216.1 235.3 216.1 235.9 218.6 235.9C221.1 235.9 221.1 228.5 223.5 228.5C226.0 228.5 226.0 235.9 228.5 235.9C231.0 235.9 231.0 225.9 233.4 225.9C235.9 225.9 235.9 237.9 238.4 237.9C240.8 237.9 240.8 235.5 243.3 235.5C245.8 235.5 245.8 234.9 248.2 234.9C250.7 234.9 250.7 235.9 253.2 235.9C255.7 235.9 255.7 235.9 258.1 235.9C260.6 235.9 260.6 235.9 263.1 235.9C265.5 235.9 265.5 233.9 268.0 233.9C270.5 233.9 270.5 236.9 272.9 236.9C275.4 236.9 275.4 240.3 277.9 240.3C280.4 240.3 280.4 236.9 282.8 236.9C285.3 236.9 285.3 236.9 287.8 236.9C290.2 236.9 290.2 235.9 292.7 235.9C295.2 235.9 295.2 236.3 297.6 236.3C300.1 236.3 300.1 236.9 302.6 236.9C305.1 236.9 305.1 234.3 307.5 234.3C310.0 234.3 310.0 236.3 312.5 236.3C314.9 236.3 314.9 235.9 317.4 235.9C319.9 235.9 319.9 235.5 322.3 235.5C324.8 235.5 324.8 235.5 327.3 235.5C329.8 235.5 329.8 232.5 332.2 232.5C334.7 232.5 334.7 236.9 337.2 236.9C339.6 236.9 339.6 234.9 342.1 234.9C344.6 234.9 344.6 237.3 347.0 237.3C349.5 237.3 349.5 235.3 352.0 235.3C354.5 235.3 354.5 237.3 356.9 237.3C359.4 237.3 359.4 234.9 361.9 234.9C364.3 234.9 364.3 223.9 366.8 223.9C369.3 223.9 369.3 236.3 371.7 236.3C374.2 236.3 374.2 233.9 376.7 233.9C379.2 233.9 379.2 233.9 381.6 233.9C384.1 233.9 384.1 237.9 386.6 237.9C389.0 237.9 389.0 232.5 391.5 232.5C394.0 232.5 394.0 241.9 396.4 241.9C398.9 241.9 398.9 240.3 401.4 240.3C403.9 240.3 403.9 236.3 406.3 236.3C408.8 236.3 408.8 230.9 411.3 230.9C413.7 230.9 413.7 236.3 416.2 236.3C418.7 236.3 418.7 236.9 421.1 236.9C423.6 236.9 423.6 234.9 426.1 234.9C428.6 234.9 428.6 234.5 431.0 234.5C433.5 234.5 433.5 233.9 436.0 233.9C438.4 233.9 438.4 236.9 440.9 236.9C443.4 236.9 443.4 233.3 445.8 233.3C448.3 233.3 448.3 236.9 450.8 236.9C453.3 236.9 453.3 236.9 455.7 236.9C458.2 236.9 458.2 232.5 460.7 232.5C463.1 232.5 463.1 234.9 465.6 234.9C468.1 234.9 468.1 228.3 470.5 228.3C473.0 228.3 473.0 228.3 475.5 228.3C478.0 228.3 478.0 233.9 480.4 233.9C482.9 233.9 482.9 237.9 485.4 237.9C487.8 237.9 487.8 224.3 490.3 224.3C492.8 224.3 492.8 234.9 495.2 234.9C497.7 234.9 497.7 234.9 500.2 234.9C502.7 234.9 502.7 234.3 505.1 234.3C507.6 234.3 507.6 234.3 510.1 234.3" fill="none" stroke="#489dc9" stroke-width="2.150" stroke-linejoin="round" stroke-linecap="round"/></svg><div class="in" style="left:0.20px;top:0.60px"><span class="ctitle">Average order value</span><span class="big" style="letter-spacing:-1.140px">€151.61</span><span class="tr" style="left:92.700px"><span class="trend"><svg width="7" height="7" viewBox="0 0 8 8"><path d="M2.2 1.3h4.5v4.5M6.5 1.5L1.4 6.6" fill="none" stroke="#29845a" stroke-width="1.5" stroke-linecap="round" stroke-linejoin="round"/></svg>5%</span></span><div class="legend"><span class="lg1"></span><span class="lgt" style="left:19.800px">Aug 10–Nov 7, 2024</span><span class="lg2"></span><span class="lgt" style="left:160.800px">May 12–Aug 9, 2024</span></div></div></div>
<div class="card" style="left:265px;top:919px;width:529px;height:60px"><div class="in" style="left:-0.50px;top:0.30px"><span class="ctitle">Top selling products</span></div></div>
<div class="card" style="left:810px;top:919px;width:529px;height:60px"><div class="in" style="left:0.20px;top:0.30px"><span class="ctitle">Customer cohort analysis</span></div></div>
<div class="card" style="left:1355px;top:919px;width:530px;height:60px"><div class="in" style="left:0.20px;top:0.30px"><span class="ctitle">Returning customer rate</span></div></div>
<div class="botbar"></div>
<div style="position:absolute;left:1586.3px;top:845.8px;width:208px;height:88.4px;background:#f9f9f9;border-radius:8px;box-shadow:0 0 0 1px rgba(0,0,0,.05),0 8px 18px rgba(0,0,0,.16),0 2px 5px rgba(0,0,0,.08)"></div><div style="position:absolute;left:1711px;top:851.5px;width:38.500px;height:37px;background:#fcfcfc;border-radius:4px;box-shadow:0 0 0 1px rgba(0,0,0,.018),0 1px 1px 0 rgba(0,0,0,.035)"></div><svg style="position:absolute;left:1599.8px;top:859.8px" width="20" height="20" viewBox="0 0 20 20"><path d="M9.600 1.900c3.200-.5 7.200 1.300 8.300 4.700 1.100 3.400.3 7.600-2.700 9.800-2.800 2-7 2.200-9.900.4C2.500 15 1.500 11.300 2.200 8 2.900 4.700 6.200 2.400 9.600 1.900z" fill="#5aa72a"/><path d="M5.900 10.200l2.500 2.500 5-5.200" fill="none" stroke="#fff" stroke-width="1.800" stroke-linecap="round" stroke-linejoin="round"/><circle cx="14.700" cy="14.400" r="3" fill="#f6e7c8"/><circle cx="14.700" cy="14.400" r="2.200" fill="#d61f2c"/></svg><svg style="position:absolute;left:1639.9px;top:859.8px" width="20" height="20" viewBox="0 0 20 20"><defs><linearGradient id="tv" x1="0" y1="0" x2="1" y2="1"><stop offset="0" stop-color="#3c3c44"/><stop offset="1" stop-color="#a4a4ac"/></linearGradient></defs><path d="M1.900 4.900h11.300L7.300 16.800z" fill="url(#tv)"/><circle cx="13.600" cy="6.400" r="4.700" fill="#d24060"/><path d="M11.800 4.600l3.600 3.600M15.400 4.600l-3.600 3.600" stroke="#fbe9ee" stroke-width="1.400" stroke-linecap="round"/></svg><svg style="position:absolute;left:1680.0px;top:860.3px" width="20" height="20" viewBox="0 0 20 20"><g fill="#fdfdfd" stroke="#3a3a3a" stroke-width="1"><rect x="2.300" y="6.600" width="15" height="3" rx="1.500"/><rect x="2.300" y="10.800" width="15" height="3" rx="1.500"/><rect x="6.700" y="2.300" width="3" height="15.400" rx="1.500"/><rect x="10.900" y="2.300" width="3" height="15.400" rx="1.500"/></g><g fill="#fdfdfd"><rect x="3" y="7.100" width="13.600" height="2" /><rect x="3" y="11.300" width="13.600" height="2"/></g><circle cx="13.300" cy="12.600" r="4.900" fill="#1fc3ea" stroke="#16323c" stroke-width="1"/></svg><svg style="position:absolute;left:1720.0px;top:859.8px" width="20" height="20" viewBox="0 0 20 20"><defs><linearGradient id="tf" x1="0" y1="1" x2="1" y2="0"><stop offset="0" stop-color="#5b2b8c"/><stop offset=".55" stop-color="#a678dd"/><stop offset="1" stop-color="#6a349f"/></linearGradient></defs><path d="M2.900 17.700C3.600 12.500 9.500 6 17 2.100 17.600 7.200 12.900 12.600 5.100 15.500 4.200 16.200 3.500 17 2.900 17.700z" fill="url(#tf)"/><path d="M3.300 17c2.700-3.800 7-8.300 12.600-13.300" stroke="#54267f" stroke-width=".9" fill="none" opacity=".8"/></svg><svg style="position:absolute;left:1760.0px;top:859.9px" width="20" height="20" viewBox="0 0 20 20"><path d="M10 1.900c3.400 0 6.100 1.900 6.100 4 0 1-.8 1.500-1.900 1.700v8.100c0 1.500-1.100 2.300-2.400 2.300H8.200c-1.300 0-2.400-.8-2.400-2.300V7.600C4.700 7.400 3.900 6.900 3.900 5.900c0-2.100 2.700-4 6.100-4z" fill="#1b1b1d"/><path d="M5.700 5.600C6.800 4.300 8.300 3.700 10 3.700s3.200.6 4.300 1.900" fill="none" stroke="#6a6a6e" stroke-width=".9"/><path d="M7 7.800c.8-.8 1.800-1.200 3-1.200s2.200.4 3 1.200" fill="none" stroke="#77777b" stroke-width=".9"/><path d="M7.700 9.800v6.400M12.300 9.800v6.400M7.700 13h4.600" stroke="#c9c9cc" stroke-width="1.500" fill="none"/></svg><svg style="position:absolute;left:1599.8px;top:900.0px" width="20" height="20" viewBox="0 0 20 20"><path d="M10 1.700c2 1.300 4.300 1.900 6.900 1.900v5.700c0 4-2.800 6.900-6.900 8.800-4.100-1.900-6.900-4.800-6.900-8.800V3.600c2.600 0 4.900-.6 6.900-1.900z" fill="#1d7fd0"/><path d="M10 1.700c-2 1.300-4.300 1.900-6.900 1.900v5.700c0 .5 0 1 .1 1.400L10 10.300z" fill="#2ba7e8"/><path d="M10 10.300l-6.800.4c.6 3.300 3.200 5.700 6.800 7.400z" fill="#1a6fb8"/><path d="M13.700 8.500l5.400 9.400H8.300z" fill="#f9f9f9"/><path d="M13.700 10.200l4.100 7.200H9.600z" fill="#f6c12b"/><path d="M13.700 12.400v2.700" stroke="#222" stroke-width="1.200"/><circle cx="13.700" cy="16.300" r=".7" fill="#222"/></svg><svg style="position:absolute;left:1640.0px;top:900.0px" width="20" height="20" viewBox="0 0 20 20"><rect x="3.900" y="1.800" width="12.800" height="16.400" rx="6.400" fill="#1f80e0"/><path d="M7.400 7.100l6 5.800-2.900 3.200V3.900l2.900 3.200-6 5.800" fill="none" stroke="#fff" stroke-width="1.300" stroke-linejoin="round" stroke-linecap="round"/></svg>
</div>
</body></html>
